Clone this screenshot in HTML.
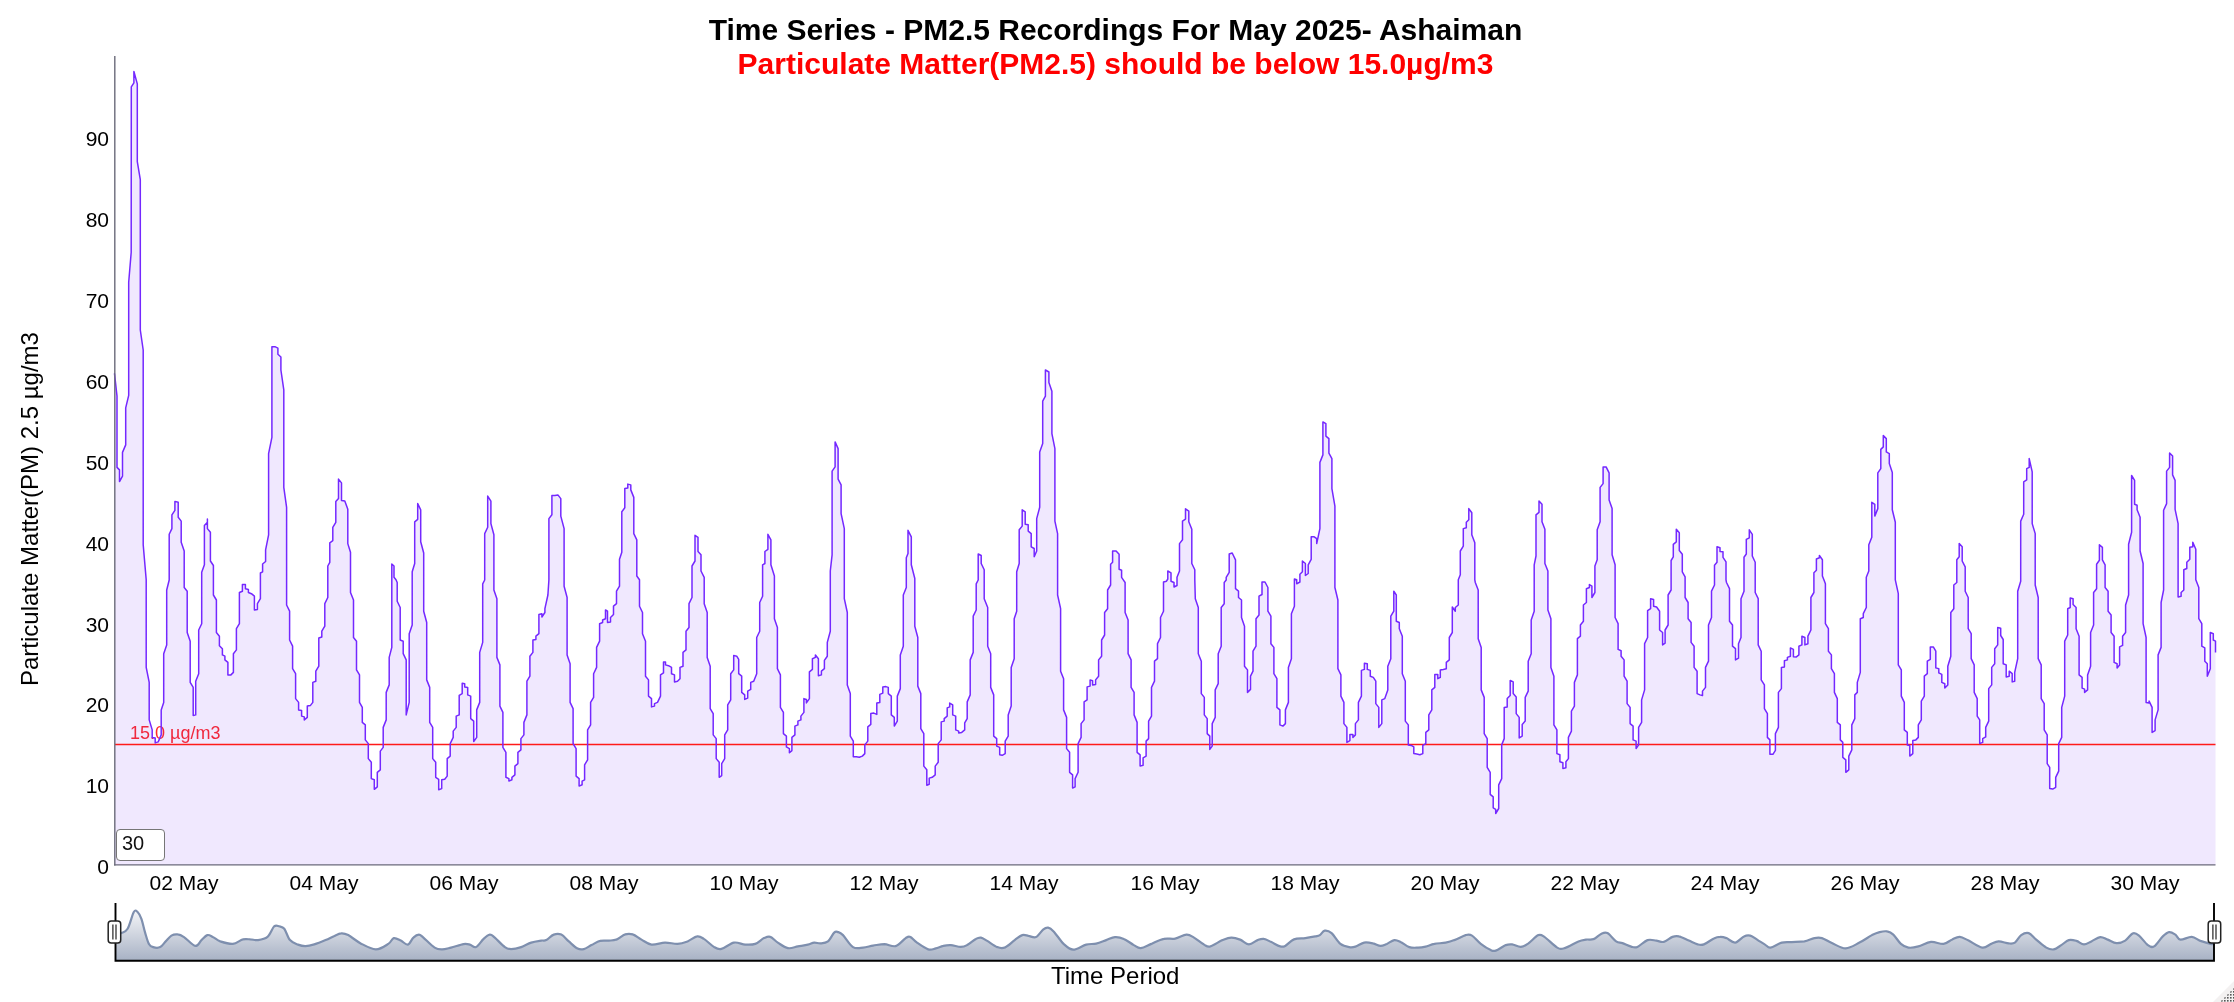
<!DOCTYPE html>
<html><head><meta charset="utf-8"><title>Time Series - PM2.5</title>
<style>
html,body{margin:0;padding:0;background:#fff;}
.t,.yl,.xl,#ylab,#xlab,#roll,#thr{will-change:transform;}
body{width:2234px;height:1002px;position:relative;overflow:hidden;font-family:"Liberation Sans",Arial,sans-serif;color:#000;}
.t{position:absolute;left:0;width:2231px;text-align:center;font-weight:bold;font-size:30px;line-height:34px;white-space:nowrap;}
.yl{position:absolute;left:30px;width:79px;text-align:right;font-size:21px;line-height:24px;height:24px;}
.xl{position:absolute;top:870.6px;width:100px;text-align:center;font-size:21px;line-height:24px;white-space:nowrap;}
#ylab{position:absolute;left:-170px;top:497px;width:400px;height:24px;line-height:24px;text-align:center;font-size:24px;transform:rotate(-90deg);white-space:nowrap;}
#xlab{position:absolute;left:0;width:2230.4px;top:962px;text-align:center;font-size:24px;line-height:28px;}
#roll{position:absolute;left:116px;top:829px;width:47px;height:30px;border:1px solid #767676;border-radius:4px;background:#fff;font-size:20px;line-height:27px;text-indent:5px;color:#111;}
#thr{position:absolute;left:130px;top:722px;font-size:18px;line-height:22px;color:#ff2a2a;white-space:nowrap;}
svg{position:absolute;left:0;top:0;}
</style></head><body>
<div class="t" style="top:13px">Time Series - PM2.5 Recordings For May 2025- Ashaiman</div>
<div class="t" style="top:47px;color:#f00">Particulate Matter(PM2.5) should be below 15.0µg/m3</div>
<div id="ylab">Particulate Matter(PM) 2.5 µg/m3</div>
<div class="yl" style="top:855.0px">0</div><div class="yl" style="top:774.0px">10</div><div class="yl" style="top:693.0px">20</div><div class="yl" style="top:613.0px">30</div><div class="yl" style="top:532.0px">40</div><div class="yl" style="top:451.0px">50</div><div class="yl" style="top:370.0px">60</div><div class="yl" style="top:289.0px">70</div><div class="yl" style="top:208.0px">80</div><div class="yl" style="top:127.0px">90</div><div class="xl" style="left:133.9px">02 May</div><div class="xl" style="left:274.0px">04 May</div><div class="xl" style="left:414.1px">06 May</div><div class="xl" style="left:554.1px">08 May</div><div class="xl" style="left:694.2px">10 May</div><div class="xl" style="left:834.3px">12 May</div><div class="xl" style="left:974.4px">14 May</div><div class="xl" style="left:1114.5px">16 May</div><div class="xl" style="left:1254.5px">18 May</div><div class="xl" style="left:1394.6px">20 May</div><div class="xl" style="left:1534.7px">22 May</div><div class="xl" style="left:1674.8px">24 May</div><div class="xl" style="left:1814.9px">26 May</div><div class="xl" style="left:1954.9px">28 May</div><div class="xl" style="left:2095.0px">30 May</div>
<div id="thr">15.0 µg/m3</div>
<svg width="2234" height="1002" viewBox="0 0 2234 1002">
<defs>
<linearGradient id="mg" gradientUnits="userSpaceOnUse" x1="0" y1="903" x2="0" y2="961"><stop offset="0" stop-color="#ffffff"/><stop offset="1" stop-color="#a7b1c4"/></linearGradient>
<pattern id="dots" width="3" height="3" patternUnits="userSpaceOnUse"><rect x="1" y="1" width="1.6" height="1.6" fill="#555"/></pattern>
</defs>
<path d="M115,373.7 L114.5,373.7 117,396.2 117,467.4 119.5,469.9 119.5,481.6 122.5,476.1 122.5,452.4 125.7,444.9 125.7,407.9 128.7,395.4 128.7,330 128.7,282.3 131.2,252.3 131.3,86.9 133.9,82.9 133.9,71.5 137.3,83.9 137.3,161.7 140.3,179.7 140.3,249.9 140.3,330 143.2,350 143.2,544.8 146.2,579.8 146.2,667.4 149.2,682.4 149.2,719.9 152.2,729.9 152.2,737.4 155.2,738.1 155.2,742.9 158.2,741.9 161.2,734.9 161.2,709.9 163.7,702.4 163.7,653.7 166.7,644.9 166.7,590 169.2,580 169.2,534.3 171.9,528.6 171.9,514.8 174.9,510.3 174.9,501.4 178.2,502.3 178.2,517.3 181.2,521.1 181.2,542.3 184.2,551 184.2,579.8 184.2,587.5 187.2,591.2 187.2,632.5 190.2,641.2 190.2,682.4 193.2,687.4 193.2,715.6 195.7,714.9 195.7,681.2 198.7,673.7 198.7,630 201.7,623.7 201.7,580 201.7,572.3 204.4,564.8 204.4,525.6 207.4,522.3 207.4,519.1 207.4,528.6 210.4,532.3 210.4,561 213.4,565.5 213.4,579.8 213.4,595 216.4,600 216.4,632.5 219.4,636.2 219.4,645.7 222.4,648.7 222.4,654.9 224.9,656.2 224.9,659.9 227.9,662.4 227.9,674.9 230.9,674.9 233.4,672.4 233.4,653.7 236.4,649.9 236.4,628.7 239.4,623.7 239.4,592.5 242.4,591.2 242.4,584.5 245.4,584.5 245.4,588.7 248.4,589.5 248.4,592.5 251.4,593.7 254.4,596.2 254.4,610 257.4,609.5 257.4,603.7 260.4,598.7 260.4,580 260.4,573 262.6,571.8 262.6,564 265.6,561.5 265.6,549.8 268.6,534.8 268.6,453.6 271.9,437.4 271.9,346.7 274.9,346.7 277.9,348.2 277.9,354.2 280.9,357 280.9,370 283.8,389.9 283.8,487.4 286.6,507.3 286.6,579.8 286.6,605 289.6,611.2 289.6,640 292.6,646.2 292.6,668.7 295.6,673.7 295.6,698.6 298.6,702.4 298.6,709.9 301.6,710.4 301.6,716.1 304.3,716.9 304.3,719.9 307.3,717.4 307.3,706.1 310.3,705.6 312.8,702.4 312.8,682.4 315.8,681.2 315.8,671.2 318.8,666.2 318.8,638 321.8,637 321.8,631.2 324.8,626.2 324.8,603.7 327.8,597.5 327.8,580 327.8,566 329.8,562.3 329.8,542.8 332.8,540.6 332.8,527.3 335.8,522.3 335.8,501.6 338.5,498.6 338.5,479.1 341.5,482.9 341.5,500.4 344.8,500.9 347.8,509.3 347.8,543.6 350.5,552.3 350.5,579.8 350.5,592.5 353.5,600 353.5,637.5 356.5,641.2 356.5,669.9 359.5,674.9 359.5,702.4 362.3,707.4 362.3,722.4 365.3,724.9 365.3,739.9 368.3,743.6 368.3,758.6 371.3,762.3 371.3,778.6 374.3,779.8 374.3,789.3 377.3,786.8 377.3,772.3 380.3,769.8 380.3,751.1 383.2,747.4 383.2,727.4 386.2,719.9 386.2,692.4 389.2,684.9 389.2,657.4 391.8,647.4 391.8,580 391.8,564 394,566 394,577.3 396,579.8 397.2,582.5 397.2,601.2 400.2,607.5 400.2,640 403.2,641.2 403.2,653.7 406.2,659.9 406.2,714.9 409.2,702.4 409.2,633.7 412.2,625 412.2,580 412.2,571.8 414.7,563.5 414.7,521.8 417.7,519.3 417.7,503.6 420.7,509.8 420.7,541.8 423.7,553 423.7,579.8 423.7,611.2 426.7,622.5 426.7,679.9 429.7,687.4 429.7,722.4 432.7,727.4 432.7,758.6 435.7,762.3 435.7,777.3 438.7,779.3 438.7,789.8 441.7,788.6 441.7,779.8 444.7,779.3 447.2,776.1 447.2,758.6 450.2,756.1 450.2,743.6 453.2,737.4 453.2,731.1 456.2,727.4 456.2,716.1 459.2,714.9 459.2,695.4 462.2,693.6 462.2,683.2 464.7,683.7 464.7,686.9 467.7,687.4 467.7,694.9 470.7,696.1 470.7,718.6 473.7,721.1 473.7,741.6 476.7,737.4 476.7,709.9 479.7,702.4 479.7,652.4 482.7,642.4 482.7,583.8 484.7,580 484.7,573.5 484.7,533.6 487.7,527.3 487.7,496.1 490.9,501.1 490.9,523.6 493.9,534.8 493.9,579.8 493.9,590 496.9,598.7 496.9,657.4 499.9,664.9 499.9,706.1 502.9,712.4 502.9,747.4 505.9,752.3 505.9,777.3 508.9,778.6 508.9,781.1 511.9,779.8 511.9,777.3 514.9,774.8 514.9,766.1 517.9,763.6 517.9,752.3 520.9,749.9 520.9,738.6 523.9,734.9 523.9,722.4 526.9,714.9 526.9,681.2 529.9,676.2 529.9,656.2 532.9,652.4 532.9,640 535.9,639.5 535.9,636.2 538.9,633.7 538.9,614.5 541.9,613.7 541.9,617 544.9,612.5 544.9,608.7 547.9,595 548.9,580 548.9,518.6 551.9,514.8 551.9,495.4 554.9,495.4 557.9,494.9 560.8,498.6 560.8,516.1 564.1,528.6 564.1,579.8 564.1,586.2 567.1,597.5 567.1,654.9 570.1,663.7 570.1,702.4 573.1,708.6 573.1,743.6 576.1,748.6 576.1,776.1 579.1,778.6 579.1,786.1 582.1,784.8 582.1,781.1 584.6,779.8 584.6,764.8 587.6,759.8 587.6,729.9 590.6,724.9 590.6,702.4 593.6,697.4 593.6,673.7 596.6,667.4 596.6,647.4 599.6,641.2 599.6,623.7 602.6,622.5 602.6,620 605.5,618.7 605.5,610 607.5,611.2 607.5,622.5 610.5,622 610.5,617.5 613.5,614.5 613.5,606.2 616.5,603.7 616.5,591.2 619.5,586.2 619.5,580 619.5,559.3 621.8,552.3 621.8,511.8 624.8,507.8 624.8,488.6 627.8,488.1 627.8,484.1 630.8,484.9 630.8,489.9 633.8,497.4 633.8,533.6 636.8,539.8 636.8,576 639.5,579.8 639.5,606.2 642.5,612.5 642.5,633.7 645.5,641.2 645.5,676.2 648.5,679.9 648.5,696.1 651.5,698.6 651.5,706.9 654.5,706.1 654.5,703.6 657.5,702.4 660.5,696.1 660.5,674.9 663.5,672.9 663.5,661.9 665.5,661.9 665.5,664.9 668.5,665.7 671.5,667.4 671.5,673.7 674.5,674.9 674.5,681.9 677.5,681.2 680,678.7 680,667.4 683,666.2 683,652.4 686,649.9 686,631.2 689,627.5 689,603.7 692,597.5 692,580 692,566 695,561 695,535.3 698,537.3 698,551.5 701,554.8 701,571 704.2,577.3 704.2,579.8 704.2,603.7 707.2,612.5 707.2,657.4 710.2,666.2 710.2,708.6 713.2,713.6 713.2,734.9 716.2,738.6 716.2,758.6 719.2,762.3 719.2,777.3 721.7,775.6 721.7,763.6 724.7,758.6 724.7,734.9 727.7,729.9 727.7,704.9 730.7,699.9 730.7,673.7 733.7,669.9 733.7,655.4 736.7,656.2 738.7,659.4 738.7,673.7 741.7,676.2 741.7,692.4 744.7,694.9 744.7,699.4 747.7,698.1 747.7,691.1 750.7,689.4 750.7,682.4 753.7,681.2 756.7,673.7 756.7,637.5 759.7,631.2 759.7,602.5 762.6,596.2 762.6,580 762.6,564.8 764.9,563.5 764.9,551.5 767.9,549.3 767.9,534.3 770.9,539.8 770.9,564.8 774.4,576 774.4,579.8 774.4,618.7 777.4,627.5 777.4,668.7 780.4,674.9 780.4,707.4 783.4,712.4 783.4,733.6 786.4,736.1 786.4,746.9 789.4,748.6 789.4,752.8 791.9,750.6 791.9,737.4 794.9,734.9 794.9,726.1 797.9,724.9 797.9,721.1 800.9,719.9 800.9,716.1 803.9,712.4 803.9,698.6 806.4,699.4 806.4,702.9 809.4,698.6 809.4,671.9 812.4,669.4 812.4,658.7 815.4,657.4 815.4,654.9 818.4,658.7 818.4,675.7 821.4,674.9 821.4,671.2 824.4,668.7 824.4,660.4 827.3,656.2 827.3,642.4 830.3,631.2 830.3,580 830.3,571 832.1,554.8 832.1,471.1 835.1,466.9 835.1,441.9 838.1,448.6 838.1,479.1 841.1,484.9 841.1,513.6 844.3,528.6 844.3,579.8 844.3,598.7 847.3,612.5 847.3,684.9 850.3,693.6 850.3,736.1 853.3,741.1 853.3,756.8 856.3,756.8 859.3,757.3 862.3,756.1 864.8,753.6 864.8,744.9 867.8,741.1 867.8,726.9 870.8,724.4 870.8,713.6 873.8,713.1 876.8,714.4 876.8,702.9 879.8,702.4 879.8,694.4 882.8,693.1 882.8,686.9 885.8,686.6 888.3,687.4 888.3,693.6 891.3,696.1 891.3,714.9 894.3,717.4 894.3,726.1 897.3,721.1 897.3,696.1 900.3,688.6 900.3,654.9 903.3,646.2 903.3,595 906.3,587.5 906.3,580 906.3,557.8 908,553.5 908,530.3 911.3,536.8 911.3,564.8 914.8,578.5 914.8,579.8 914.8,626.2 917.8,637.5 917.8,686.1 920.8,693.6 920.8,728.6 923.8,733.6 923.8,766.1 926.8,769.8 926.8,785.3 929.2,784.3 929.2,778.1 932.2,777.3 935.2,774.8 935.2,766.1 938.2,762.3 938.2,743.6 941.2,739.9 941.2,721.9 944.2,721.1 944.2,718.6 947.2,716.1 947.2,707.9 949.7,706.9 949.7,703.1 952.7,704.9 952.7,714.9 955.7,716.1 955.7,729.9 958.7,731.1 958.7,732.9 961.7,732.4 964.7,729.9 964.7,722.9 967.2,718.6 967.2,701.9 970.2,694.9 970.2,659.9 973.2,652.4 973.2,616.2 976.2,610 976.2,583.8 978.2,580 978.2,554 981.2,555.5 981.2,563.5 984.2,569.8 984.2,579.8 984.2,598.7 987.7,607.5 987.7,646.2 990.7,653.7 990.7,687.4 993.7,694.9 993.7,736.1 996.7,738.6 996.7,746.1 999.7,747.4 999.7,754.8 1002.2,755.3 1005.2,753.6 1005.2,741.1 1008.2,736.1 1008.2,714.9 1011.2,706.1 1011.2,667.4 1014.2,658.7 1014.2,618.7 1016.7,611.2 1016.7,580 1016.7,571.8 1019.2,563.5 1019.2,529.8 1022.2,526.1 1022.2,509.8 1025.2,511.8 1025.2,524.3 1028.2,524.8 1028.2,531.1 1031.2,533.6 1031.2,546.8 1034.2,548.5 1034.2,556.8 1036.7,551 1036.7,518.6 1039.7,507.3 1039.7,451.9 1042.7,443.6 1042.7,401.2 1045.4,396.2 1045.4,370 1048.9,372 1048.9,382.4 1051.9,391.2 1051.9,433.7 1054.9,448.6 1054.9,521.1 1057.6,533.6 1057.6,579.8 1057.6,595 1060.6,608.7 1060.6,671.2 1063.6,678.7 1063.6,709.9 1066.6,717.4 1066.6,748.6 1069.6,752.3 1069.6,772.3 1072.6,774.8 1072.6,788.1 1075.1,786.8 1075.1,778.6 1078.1,772.3 1078.1,743.6 1081.1,737.4 1081.1,723.6 1084.1,719.9 1084.1,701.9 1087.1,699.9 1087.1,686.9 1090.1,686.1 1090.1,679.9 1092.6,680.7 1092.6,684.9 1095.6,684.4 1095.6,679.9 1098.6,676.2 1098.6,659.9 1101.6,656.2 1101.6,640 1104.6,635 1104.6,612.5 1107.6,608.7 1107.6,590 1110.6,585 1110.6,580 1110.6,564.3 1112.6,562.3 1112.6,551 1116.1,551 1119.1,554.3 1119.1,569.3 1121.6,570.3 1121.6,577.3 1123.3,579.8 1125.1,582.5 1125.1,612.5 1128.1,620 1128.1,653.7 1131.1,659.9 1131.1,687.4 1134.1,692.4 1134.1,714.9 1137.1,722.4 1137.1,752.3 1140.1,754.8 1140.1,766.1 1143.1,765.3 1143.1,757.8 1146.1,756.1 1146.1,741.1 1148.6,738.6 1148.6,721.1 1151.5,716.1 1151.5,687.4 1154.5,681.2 1154.5,661.2 1157.5,658.7 1157.5,643.7 1160.5,637.5 1160.5,617.5 1163.5,611.2 1163.5,582 1166.5,581.2 1167.8,579 1167.8,571 1171,572.8 1171,579.8 1171,581.2 1174,582.5 1174,587 1177,585.5 1177,580 1177,577.3 1179.5,571 1179.5,543.6 1182.5,539.8 1182.5,521.1 1185.5,519.1 1185.5,508.8 1188.8,511.1 1188.8,521.8 1191.8,529.3 1191.8,563.5 1194.8,569.8 1194.8,579.8 1195.3,598.7 1198.3,607.5 1198.3,653.7 1201.3,661.2 1201.3,693.6 1204.3,697.4 1204.3,714.9 1207.2,718.6 1207.2,733.6 1209.8,736.1 1209.8,749.4 1212.2,746.1 1212.2,743.6 1212.2,723.6 1215.2,717.4 1215.2,689.9 1218.2,683.7 1218.2,653.7 1221.2,646.2 1221.2,607.5 1224.2,603.7 1224.2,582.5 1226.2,580 1226.2,577.3 1229.2,572.3 1229.2,554 1232.2,553 1235.5,559.8 1235.5,579.8 1235.5,588.7 1238.5,591.2 1238.5,597.5 1241.5,600 1241.5,617.5 1244.5,626.2 1244.5,666.2 1247.5,669.9 1247.5,692.4 1250.5,689.4 1250.5,676.2 1253,671.2 1253,651.2 1256,646.2 1256,618.7 1259,615 1259,596.2 1262,594.5 1262,582 1265,582 1267.9,587.5 1267.9,611.2 1270.9,616.2 1270.9,643.7 1273.9,647.4 1273.9,673.7 1276.9,678.7 1276.9,707.4 1279.9,709.9 1279.9,724.9 1282.9,726.1 1285.4,723.6 1285.4,709.9 1288.4,702.4 1288.4,667.4 1291.4,658.7 1291.4,613.7 1294.4,606.2 1294.4,580 1294.4,579 1296.7,579.8 1296.7,583.8 1299.9,582 1299.9,580 1299.9,574.3 1302.4,571.8 1302.4,561 1305.4,563.5 1305.4,575.5 1308.2,573.5 1308.2,564.8 1311.2,559.3 1311.2,536.8 1314.2,536.8 1316.7,538.6 1316.7,543.6 1319.9,528.6 1319.9,462.4 1322.9,454.9 1322.9,421.9 1325.9,423.7 1325.9,436.1 1328.9,438.6 1328.9,453.1 1331.9,458.6 1331.9,488.6 1334.9,506.1 1334.9,579.8 1334.9,587.5 1337.9,600 1337.9,668.7 1340.9,674.9 1340.9,696.1 1343.9,702.4 1343.9,723.6 1346.9,727.4 1346.9,742.4 1349.9,740.6 1349.9,734.4 1352.9,734.4 1352.9,737.4 1355.4,734.9 1355.4,723.6 1358.4,719.9 1358.4,702.4 1361.4,696.1 1361.4,670.4 1364.4,669.4 1364.4,663.2 1367.3,663.7 1367.3,669.4 1370.3,670.4 1370.3,676.2 1373.3,677.4 1375.8,681.2 1375.8,703.6 1378.8,707.4 1378.8,727.4 1381.8,723.6 1381.8,699.9 1384.8,698.6 1387.8,689.9 1387.8,666.2 1390.8,658.7 1390.8,616.2 1393.8,611.2 1393.8,591.2 1396.3,595 1396.3,621.2 1399.3,622.5 1399.3,628.7 1402.3,636.2 1402.3,673.7 1405.3,681.2 1405.3,721.1 1408.3,724.9 1408.3,744.9 1411.3,745.4 1413.8,746.9 1413.8,753.6 1416.8,754.1 1419.8,754.8 1422.8,753.6 1422.8,745.4 1425.8,743.6 1425.8,732.4 1428.8,729.9 1428.8,714.9 1431.8,709.9 1431.8,689.9 1434.8,687.4 1434.8,674.4 1437.8,674.4 1437.8,678.7 1440.3,677.4 1440.3,669.9 1443.3,669.4 1446.3,668.7 1446.3,662.4 1449.3,659.9 1449.3,637.5 1452.3,632.5 1452.3,607 1455.3,611.2 1455.3,607.5 1458.3,605 1458.3,580 1458.3,579.8 1460.3,574.8 1460.3,551 1463.3,546.1 1463.3,528.6 1466.3,527.8 1466.3,522.3 1468.8,519.8 1468.8,508.6 1471.8,512.8 1471.8,534.8 1474.8,542.8 1474.8,579.8 1475.3,582.5 1478.2,590 1478.2,638.7 1481.2,647.4 1481.2,689.9 1484.2,697.4 1484.2,733.6 1487.2,738.6 1487.2,767.3 1490.2,772.3 1490.2,794.3 1493.2,796.8 1493.2,807.8 1495.7,809.3 1495.7,813.5 1498.7,808.5 1498.7,784.8 1501.7,778.6 1501.7,744.9 1504.2,738.6 1504.2,707.4 1507.2,706.9 1507.2,698.6 1510.2,695.4 1510.2,680.4 1513.2,681.9 1513.2,693.6 1516.2,696.9 1516.2,713.6 1519.2,717.4 1519.2,737.9 1522.2,736.1 1522.2,724.4 1525.2,721.1 1525.2,697.4 1528.2,691.1 1528.2,661.2 1531.2,653.7 1531.2,620 1534.2,611.2 1534.2,580 1534.2,564.8 1536,556 1536,514.8 1539,512.3 1539,501.1 1542,504.3 1542,521.8 1544.9,529.3 1544.9,563.5 1547.9,571 1547.9,579.8 1547.9,610 1550.9,618.7 1550.9,667.4 1553.9,676.2 1553.9,724.9 1556.9,729.9 1556.9,753.6 1559.9,754.8 1559.9,761.8 1562.9,762.8 1562.9,768.6 1565.9,767.8 1565.9,761.8 1568.4,758.6 1568.4,737.4 1571.4,731.1 1571.4,711.1 1574.4,706.1 1574.4,682.4 1577.4,674.9 1577.4,638.7 1580.4,636.2 1580.4,625 1583.4,621.2 1583.4,605 1586.4,602.5 1586.4,588.7 1589.4,587.5 1589.4,584.5 1591.9,586.2 1591.9,597.5 1594.9,592.5 1594.9,580 1594.9,566 1597.2,559.8 1597.2,529.8 1600.1,521.8 1600.1,487.4 1603.1,483.6 1603.1,466.9 1606.1,466.9 1609.1,472.9 1609.1,499.9 1612.1,508.6 1612.1,554.8 1615.1,564.8 1615.1,579.8 1615.1,617.5 1618.1,623.7 1618.1,649.4 1621.1,650.7 1621.1,656.2 1624.1,659.9 1624.1,676.2 1627.1,681.2 1627.1,703.6 1630.1,707.4 1630.1,723.6 1633.1,726.1 1633.1,739.9 1636.1,741.1 1636.1,748.6 1638.6,744.9 1638.6,727.4 1641.6,722.4 1641.6,699.9 1644.6,689.9 1644.6,643.7 1647.6,637.5 1647.6,610.7 1650.6,608.7 1650.6,598.7 1653.6,599.5 1653.6,606.2 1656.6,607 1659.6,611.2 1659.6,630 1662.6,632.5 1662.6,644.9 1665.1,643.2 1665.1,630 1668.1,625 1668.1,595 1671.1,590 1671.1,580 1671.1,560.5 1673.3,556.8 1673.3,544.3 1676.3,541.8 1676.3,529.3 1679.3,532.8 1679.3,550.5 1682.3,554.3 1682.3,571.8 1685.1,576.8 1685.1,579.8 1685.1,597.5 1688.1,602.5 1688.1,618.7 1691.1,622.5 1691.1,642.4 1694.1,646.2 1694.1,667.4 1697.1,671.2 1697.1,693.6 1700,694.9 1702.5,695.6 1702.5,691.1 1705.5,687.4 1705.5,667.4 1708.5,661.2 1708.5,625 1711.5,617.5 1711.5,591.2 1714.5,585 1714.5,580 1714.5,565.3 1717,562.3 1717,546.8 1720,547.8 1720,551.5 1723,551.8 1723,557.3 1726,561.8 1726,579.8 1726.5,582.5 1729.5,588.7 1729.5,621.2 1732.5,625 1732.5,646.2 1735.5,648.7 1735.5,659.9 1738.5,658.2 1738.5,643.7 1741,637.5 1741,598.7 1744,591.2 1744,580 1744,557.3 1746.3,554 1746.3,539.3 1749.3,537.8 1749.3,529.8 1752.3,534.3 1752.3,556 1755.2,562.3 1755.2,579.8 1755.2,592.5 1758.2,598.7 1758.2,644.9 1761.2,651.2 1761.2,679.9 1764.4,684.9 1764.4,708.6 1767.4,713.6 1767.4,737.4 1769.9,739.9 1769.9,754.3 1772.9,754.3 1775.4,750.4 1775.4,733.6 1778.4,727.4 1778.4,692.4 1781.4,688.6 1781.4,667.4 1784.4,666.9 1784.4,660.7 1787.4,659.9 1787.4,657.4 1790.4,656.2 1790.4,647.9 1793.4,649.4 1793.4,656.7 1796.4,656.9 1798.9,654.9 1798.9,646.2 1801.9,644.9 1801.9,636.2 1804.9,637.5 1804.9,644.9 1807.9,643.7 1807.9,636.2 1810.9,630 1810.9,597.5 1813.9,592.5 1813.9,580 1813.9,572.8 1816.4,570.3 1816.4,559 1819.4,557.8 1819.4,555.5 1822.4,559.8 1822.4,576 1823.9,579.8 1825.4,583.8 1825.4,623.7 1828.4,628.7 1828.4,651.2 1831.4,654.9 1831.4,668.7 1834.4,673.7 1834.4,692.4 1837.3,698.6 1837.3,722.4 1840.3,724.9 1840.3,739.9 1842.8,742.4 1842.8,757.3 1845.8,759.8 1845.8,772.3 1848.8,769.8 1848.8,756.1 1851.8,749.9 1851.8,724.9 1854.8,718.6 1854.8,694.9 1857.3,692.4 1857.3,682.4 1860.3,672.4 1860.3,618.7 1863.3,617.5 1863.3,613.7 1866.3,607.5 1866.3,580 1866.3,577.3 1868.8,571 1868.8,544.8 1871.8,537.3 1871.8,502.3 1874.8,504.3 1874.8,516.1 1877.8,508.6 1877.8,472.9 1880.8,468.6 1880.8,449.4 1883.3,446.9 1883.3,435.6 1886.3,438.6 1886.3,451.9 1889.3,453.6 1889.3,463.6 1892.3,472.4 1892.3,509.8 1895.3,522.3 1895.3,579.8 1898.3,593.7 1898.3,664.9 1901.3,669.9 1901.3,696.1 1904.3,702.4 1904.3,729.9 1907.3,732.4 1907.3,744.9 1909.8,745.4 1909.8,756.1 1912.8,753.6 1912.8,740.4 1915.8,739.9 1918.3,737.4 1918.3,724.9 1921.3,719.9 1921.3,701.1 1924.3,696.1 1924.3,676.2 1927.3,673.7 1927.3,661.2 1930.3,659.4 1930.3,646.9 1933.3,646.9 1935.8,651.2 1935.8,667.9 1938.8,668.7 1938.8,672.9 1941.8,674.4 1941.8,682.4 1944.8,683.7 1944.8,688.1 1947.8,684.9 1947.8,666.2 1950.8,656.2 1950.8,612.5 1953.8,608.7 1953.8,585 1956.8,582.5 1956.8,580 1956.8,559.8 1959.2,556.8 1959.2,543.6 1962.2,546.8 1962.2,561 1965.2,566.8 1965.2,579.8 1965.2,591.2 1968.2,597.5 1968.2,628.7 1971.2,633.7 1971.2,658.7 1974.2,664.9 1974.2,692.4 1977.2,698.6 1977.2,716.1 1979.7,719.9 1979.7,743.6 1982.7,742.4 1982.7,738.6 1985.7,736.9 1985.7,727.4 1988.7,721.1 1988.7,688.6 1991.7,684.9 1991.7,667.4 1994.7,663.7 1994.7,648.7 1997.7,644.9 1997.7,627.5 2000.7,628.2 2000.7,635.5 2003.2,639.5 2003.2,663.7 2006.2,664.9 2006.2,676.9 2009.2,676.2 2009.2,671.2 2012.2,673.7 2012.2,681.9 2014.7,681.2 2014.7,672.4 2017.7,658.7 2017.7,591.2 2020.7,581.2 2020.7,580 2020.7,521.1 2023.7,514.3 2023.7,481.9 2026.7,479.9 2026.7,468.6 2029.2,467.4 2029.2,458.6 2032.2,471.9 2032.2,523.6 2035.2,533.6 2035.2,579.8 2035.2,585 2038.2,597.5 2038.2,658.7 2041.2,664.9 2041.2,698.6 2044.2,703.6 2044.2,729.9 2047.2,734.9 2047.2,763.6 2049.7,767.3 2049.7,788.6 2052.7,789.1 2055.7,787.3 2055.7,777.3 2058.7,771.1 2058.7,743.6 2061.7,737.4 2061.7,707.4 2064.7,696.1 2064.7,641.2 2067.7,635 2067.7,608.7 2070.2,607.5 2070.2,598 2073.1,598.7 2073.1,604.5 2076.1,607.5 2076.1,628.7 2079.1,636.2 2079.1,674.9 2082.1,677.4 2082.1,688.1 2084.6,689.1 2084.6,692.4 2087.6,689.9 2087.6,674.9 2090.6,666.2 2090.6,632.5 2093.6,625 2093.6,592.5 2096.6,588.7 2096.6,580 2096.6,564.3 2099.4,560.3 2099.4,544.8 2102.4,547.3 2102.4,559.8 2105.1,564.8 2105.1,579.8 2105.1,587.5 2108.1,591.2 2108.1,611.2 2111.1,615 2111.1,632.5 2114.1,636.2 2114.1,662.4 2117.1,663.7 2117.1,667.9 2119.6,664.9 2119.6,646.9 2122.6,645.4 2122.6,636.2 2125.6,632.5 2125.6,605 2128.6,595 2128.6,580 2128.6,544.3 2131.6,532.3 2131.6,475.4 2134.6,480.4 2134.6,504.3 2137.1,505.3 2137.1,509.8 2140.1,517.3 2140.1,551 2143.1,563.5 2143.1,579.8 2143.1,623.7 2146.1,637.5 2146.1,702.4 2149.1,702.9 2149.1,701.1 2152.1,707.4 2152.1,732.4 2155.1,730.6 2155.1,719.9 2158.1,709.9 2158.1,654.9 2161.1,647.4 2161.1,602.5 2163.6,590 2163.6,580 2163.6,510.3 2166.6,503.6 2166.6,471.1 2169.6,467.4 2169.6,452.9 2172.6,456.1 2172.6,474.9 2175.1,480.4 2175.1,509.3 2178.1,523.6 2178.1,579.8 2178.1,597 2181.1,596.2 2181.1,592.5 2183.8,590 2183.8,580 2183.8,569.8 2186.8,568.5 2186.8,562.3 2189.8,559.3 2189.8,547.3 2192.8,546.8 2192.8,542.3 2195.8,549.3 2195.8,579.8 2198.8,587.5 2198.8,618.7 2201.8,623.7 2201.8,646.2 2204.8,647.9 2204.8,661.2 2207.3,663.7 2207.3,676.2 2210.3,668.7 2210.3,632.5 2213.3,633.7 2213.3,640 2215.5,641.2 2215.5,652.4 L2215.5,652.4 L2215.5,864.9 L115,864.9 Z" fill="#6919f5" fill-opacity="0.1" stroke="none"/>
<line x1="115" y1="744.6" x2="2215.5" y2="744.6" stroke="#ff1a1a" stroke-width="1.5"/>
<path d="M115,373.7 L114.5,373.7 117,396.2 117,467.4 119.5,469.9 119.5,481.6 122.5,476.1 122.5,452.4 125.7,444.9 125.7,407.9 128.7,395.4 128.7,330 128.7,282.3 131.2,252.3 131.3,86.9 133.9,82.9 133.9,71.5 137.3,83.9 137.3,161.7 140.3,179.7 140.3,249.9 140.3,330 143.2,350 143.2,544.8 146.2,579.8 146.2,667.4 149.2,682.4 149.2,719.9 152.2,729.9 152.2,737.4 155.2,738.1 155.2,742.9 158.2,741.9 161.2,734.9 161.2,709.9 163.7,702.4 163.7,653.7 166.7,644.9 166.7,590 169.2,580 169.2,534.3 171.9,528.6 171.9,514.8 174.9,510.3 174.9,501.4 178.2,502.3 178.2,517.3 181.2,521.1 181.2,542.3 184.2,551 184.2,579.8 184.2,587.5 187.2,591.2 187.2,632.5 190.2,641.2 190.2,682.4 193.2,687.4 193.2,715.6 195.7,714.9 195.7,681.2 198.7,673.7 198.7,630 201.7,623.7 201.7,580 201.7,572.3 204.4,564.8 204.4,525.6 207.4,522.3 207.4,519.1 207.4,528.6 210.4,532.3 210.4,561 213.4,565.5 213.4,579.8 213.4,595 216.4,600 216.4,632.5 219.4,636.2 219.4,645.7 222.4,648.7 222.4,654.9 224.9,656.2 224.9,659.9 227.9,662.4 227.9,674.9 230.9,674.9 233.4,672.4 233.4,653.7 236.4,649.9 236.4,628.7 239.4,623.7 239.4,592.5 242.4,591.2 242.4,584.5 245.4,584.5 245.4,588.7 248.4,589.5 248.4,592.5 251.4,593.7 254.4,596.2 254.4,610 257.4,609.5 257.4,603.7 260.4,598.7 260.4,580 260.4,573 262.6,571.8 262.6,564 265.6,561.5 265.6,549.8 268.6,534.8 268.6,453.6 271.9,437.4 271.9,346.7 274.9,346.7 277.9,348.2 277.9,354.2 280.9,357 280.9,370 283.8,389.9 283.8,487.4 286.6,507.3 286.6,579.8 286.6,605 289.6,611.2 289.6,640 292.6,646.2 292.6,668.7 295.6,673.7 295.6,698.6 298.6,702.4 298.6,709.9 301.6,710.4 301.6,716.1 304.3,716.9 304.3,719.9 307.3,717.4 307.3,706.1 310.3,705.6 312.8,702.4 312.8,682.4 315.8,681.2 315.8,671.2 318.8,666.2 318.8,638 321.8,637 321.8,631.2 324.8,626.2 324.8,603.7 327.8,597.5 327.8,580 327.8,566 329.8,562.3 329.8,542.8 332.8,540.6 332.8,527.3 335.8,522.3 335.8,501.6 338.5,498.6 338.5,479.1 341.5,482.9 341.5,500.4 344.8,500.9 347.8,509.3 347.8,543.6 350.5,552.3 350.5,579.8 350.5,592.5 353.5,600 353.5,637.5 356.5,641.2 356.5,669.9 359.5,674.9 359.5,702.4 362.3,707.4 362.3,722.4 365.3,724.9 365.3,739.9 368.3,743.6 368.3,758.6 371.3,762.3 371.3,778.6 374.3,779.8 374.3,789.3 377.3,786.8 377.3,772.3 380.3,769.8 380.3,751.1 383.2,747.4 383.2,727.4 386.2,719.9 386.2,692.4 389.2,684.9 389.2,657.4 391.8,647.4 391.8,580 391.8,564 394,566 394,577.3 396,579.8 397.2,582.5 397.2,601.2 400.2,607.5 400.2,640 403.2,641.2 403.2,653.7 406.2,659.9 406.2,714.9 409.2,702.4 409.2,633.7 412.2,625 412.2,580 412.2,571.8 414.7,563.5 414.7,521.8 417.7,519.3 417.7,503.6 420.7,509.8 420.7,541.8 423.7,553 423.7,579.8 423.7,611.2 426.7,622.5 426.7,679.9 429.7,687.4 429.7,722.4 432.7,727.4 432.7,758.6 435.7,762.3 435.7,777.3 438.7,779.3 438.7,789.8 441.7,788.6 441.7,779.8 444.7,779.3 447.2,776.1 447.2,758.6 450.2,756.1 450.2,743.6 453.2,737.4 453.2,731.1 456.2,727.4 456.2,716.1 459.2,714.9 459.2,695.4 462.2,693.6 462.2,683.2 464.7,683.7 464.7,686.9 467.7,687.4 467.7,694.9 470.7,696.1 470.7,718.6 473.7,721.1 473.7,741.6 476.7,737.4 476.7,709.9 479.7,702.4 479.7,652.4 482.7,642.4 482.7,583.8 484.7,580 484.7,573.5 484.7,533.6 487.7,527.3 487.7,496.1 490.9,501.1 490.9,523.6 493.9,534.8 493.9,579.8 493.9,590 496.9,598.7 496.9,657.4 499.9,664.9 499.9,706.1 502.9,712.4 502.9,747.4 505.9,752.3 505.9,777.3 508.9,778.6 508.9,781.1 511.9,779.8 511.9,777.3 514.9,774.8 514.9,766.1 517.9,763.6 517.9,752.3 520.9,749.9 520.9,738.6 523.9,734.9 523.9,722.4 526.9,714.9 526.9,681.2 529.9,676.2 529.9,656.2 532.9,652.4 532.9,640 535.9,639.5 535.9,636.2 538.9,633.7 538.9,614.5 541.9,613.7 541.9,617 544.9,612.5 544.9,608.7 547.9,595 548.9,580 548.9,518.6 551.9,514.8 551.9,495.4 554.9,495.4 557.9,494.9 560.8,498.6 560.8,516.1 564.1,528.6 564.1,579.8 564.1,586.2 567.1,597.5 567.1,654.9 570.1,663.7 570.1,702.4 573.1,708.6 573.1,743.6 576.1,748.6 576.1,776.1 579.1,778.6 579.1,786.1 582.1,784.8 582.1,781.1 584.6,779.8 584.6,764.8 587.6,759.8 587.6,729.9 590.6,724.9 590.6,702.4 593.6,697.4 593.6,673.7 596.6,667.4 596.6,647.4 599.6,641.2 599.6,623.7 602.6,622.5 602.6,620 605.5,618.7 605.5,610 607.5,611.2 607.5,622.5 610.5,622 610.5,617.5 613.5,614.5 613.5,606.2 616.5,603.7 616.5,591.2 619.5,586.2 619.5,580 619.5,559.3 621.8,552.3 621.8,511.8 624.8,507.8 624.8,488.6 627.8,488.1 627.8,484.1 630.8,484.9 630.8,489.9 633.8,497.4 633.8,533.6 636.8,539.8 636.8,576 639.5,579.8 639.5,606.2 642.5,612.5 642.5,633.7 645.5,641.2 645.5,676.2 648.5,679.9 648.5,696.1 651.5,698.6 651.5,706.9 654.5,706.1 654.5,703.6 657.5,702.4 660.5,696.1 660.5,674.9 663.5,672.9 663.5,661.9 665.5,661.9 665.5,664.9 668.5,665.7 671.5,667.4 671.5,673.7 674.5,674.9 674.5,681.9 677.5,681.2 680,678.7 680,667.4 683,666.2 683,652.4 686,649.9 686,631.2 689,627.5 689,603.7 692,597.5 692,580 692,566 695,561 695,535.3 698,537.3 698,551.5 701,554.8 701,571 704.2,577.3 704.2,579.8 704.2,603.7 707.2,612.5 707.2,657.4 710.2,666.2 710.2,708.6 713.2,713.6 713.2,734.9 716.2,738.6 716.2,758.6 719.2,762.3 719.2,777.3 721.7,775.6 721.7,763.6 724.7,758.6 724.7,734.9 727.7,729.9 727.7,704.9 730.7,699.9 730.7,673.7 733.7,669.9 733.7,655.4 736.7,656.2 738.7,659.4 738.7,673.7 741.7,676.2 741.7,692.4 744.7,694.9 744.7,699.4 747.7,698.1 747.7,691.1 750.7,689.4 750.7,682.4 753.7,681.2 756.7,673.7 756.7,637.5 759.7,631.2 759.7,602.5 762.6,596.2 762.6,580 762.6,564.8 764.9,563.5 764.9,551.5 767.9,549.3 767.9,534.3 770.9,539.8 770.9,564.8 774.4,576 774.4,579.8 774.4,618.7 777.4,627.5 777.4,668.7 780.4,674.9 780.4,707.4 783.4,712.4 783.4,733.6 786.4,736.1 786.4,746.9 789.4,748.6 789.4,752.8 791.9,750.6 791.9,737.4 794.9,734.9 794.9,726.1 797.9,724.9 797.9,721.1 800.9,719.9 800.9,716.1 803.9,712.4 803.9,698.6 806.4,699.4 806.4,702.9 809.4,698.6 809.4,671.9 812.4,669.4 812.4,658.7 815.4,657.4 815.4,654.9 818.4,658.7 818.4,675.7 821.4,674.9 821.4,671.2 824.4,668.7 824.4,660.4 827.3,656.2 827.3,642.4 830.3,631.2 830.3,580 830.3,571 832.1,554.8 832.1,471.1 835.1,466.9 835.1,441.9 838.1,448.6 838.1,479.1 841.1,484.9 841.1,513.6 844.3,528.6 844.3,579.8 844.3,598.7 847.3,612.5 847.3,684.9 850.3,693.6 850.3,736.1 853.3,741.1 853.3,756.8 856.3,756.8 859.3,757.3 862.3,756.1 864.8,753.6 864.8,744.9 867.8,741.1 867.8,726.9 870.8,724.4 870.8,713.6 873.8,713.1 876.8,714.4 876.8,702.9 879.8,702.4 879.8,694.4 882.8,693.1 882.8,686.9 885.8,686.6 888.3,687.4 888.3,693.6 891.3,696.1 891.3,714.9 894.3,717.4 894.3,726.1 897.3,721.1 897.3,696.1 900.3,688.6 900.3,654.9 903.3,646.2 903.3,595 906.3,587.5 906.3,580 906.3,557.8 908,553.5 908,530.3 911.3,536.8 911.3,564.8 914.8,578.5 914.8,579.8 914.8,626.2 917.8,637.5 917.8,686.1 920.8,693.6 920.8,728.6 923.8,733.6 923.8,766.1 926.8,769.8 926.8,785.3 929.2,784.3 929.2,778.1 932.2,777.3 935.2,774.8 935.2,766.1 938.2,762.3 938.2,743.6 941.2,739.9 941.2,721.9 944.2,721.1 944.2,718.6 947.2,716.1 947.2,707.9 949.7,706.9 949.7,703.1 952.7,704.9 952.7,714.9 955.7,716.1 955.7,729.9 958.7,731.1 958.7,732.9 961.7,732.4 964.7,729.9 964.7,722.9 967.2,718.6 967.2,701.9 970.2,694.9 970.2,659.9 973.2,652.4 973.2,616.2 976.2,610 976.2,583.8 978.2,580 978.2,554 981.2,555.5 981.2,563.5 984.2,569.8 984.2,579.8 984.2,598.7 987.7,607.5 987.7,646.2 990.7,653.7 990.7,687.4 993.7,694.9 993.7,736.1 996.7,738.6 996.7,746.1 999.7,747.4 999.7,754.8 1002.2,755.3 1005.2,753.6 1005.2,741.1 1008.2,736.1 1008.2,714.9 1011.2,706.1 1011.2,667.4 1014.2,658.7 1014.2,618.7 1016.7,611.2 1016.7,580 1016.7,571.8 1019.2,563.5 1019.2,529.8 1022.2,526.1 1022.2,509.8 1025.2,511.8 1025.2,524.3 1028.2,524.8 1028.2,531.1 1031.2,533.6 1031.2,546.8 1034.2,548.5 1034.2,556.8 1036.7,551 1036.7,518.6 1039.7,507.3 1039.7,451.9 1042.7,443.6 1042.7,401.2 1045.4,396.2 1045.4,370 1048.9,372 1048.9,382.4 1051.9,391.2 1051.9,433.7 1054.9,448.6 1054.9,521.1 1057.6,533.6 1057.6,579.8 1057.6,595 1060.6,608.7 1060.6,671.2 1063.6,678.7 1063.6,709.9 1066.6,717.4 1066.6,748.6 1069.6,752.3 1069.6,772.3 1072.6,774.8 1072.6,788.1 1075.1,786.8 1075.1,778.6 1078.1,772.3 1078.1,743.6 1081.1,737.4 1081.1,723.6 1084.1,719.9 1084.1,701.9 1087.1,699.9 1087.1,686.9 1090.1,686.1 1090.1,679.9 1092.6,680.7 1092.6,684.9 1095.6,684.4 1095.6,679.9 1098.6,676.2 1098.6,659.9 1101.6,656.2 1101.6,640 1104.6,635 1104.6,612.5 1107.6,608.7 1107.6,590 1110.6,585 1110.6,580 1110.6,564.3 1112.6,562.3 1112.6,551 1116.1,551 1119.1,554.3 1119.1,569.3 1121.6,570.3 1121.6,577.3 1123.3,579.8 1125.1,582.5 1125.1,612.5 1128.1,620 1128.1,653.7 1131.1,659.9 1131.1,687.4 1134.1,692.4 1134.1,714.9 1137.1,722.4 1137.1,752.3 1140.1,754.8 1140.1,766.1 1143.1,765.3 1143.1,757.8 1146.1,756.1 1146.1,741.1 1148.6,738.6 1148.6,721.1 1151.5,716.1 1151.5,687.4 1154.5,681.2 1154.5,661.2 1157.5,658.7 1157.5,643.7 1160.5,637.5 1160.5,617.5 1163.5,611.2 1163.5,582 1166.5,581.2 1167.8,579 1167.8,571 1171,572.8 1171,579.8 1171,581.2 1174,582.5 1174,587 1177,585.5 1177,580 1177,577.3 1179.5,571 1179.5,543.6 1182.5,539.8 1182.5,521.1 1185.5,519.1 1185.5,508.8 1188.8,511.1 1188.8,521.8 1191.8,529.3 1191.8,563.5 1194.8,569.8 1194.8,579.8 1195.3,598.7 1198.3,607.5 1198.3,653.7 1201.3,661.2 1201.3,693.6 1204.3,697.4 1204.3,714.9 1207.2,718.6 1207.2,733.6 1209.8,736.1 1209.8,749.4 1212.2,746.1 1212.2,743.6 1212.2,723.6 1215.2,717.4 1215.2,689.9 1218.2,683.7 1218.2,653.7 1221.2,646.2 1221.2,607.5 1224.2,603.7 1224.2,582.5 1226.2,580 1226.2,577.3 1229.2,572.3 1229.2,554 1232.2,553 1235.5,559.8 1235.5,579.8 1235.5,588.7 1238.5,591.2 1238.5,597.5 1241.5,600 1241.5,617.5 1244.5,626.2 1244.5,666.2 1247.5,669.9 1247.5,692.4 1250.5,689.4 1250.5,676.2 1253,671.2 1253,651.2 1256,646.2 1256,618.7 1259,615 1259,596.2 1262,594.5 1262,582 1265,582 1267.9,587.5 1267.9,611.2 1270.9,616.2 1270.9,643.7 1273.9,647.4 1273.9,673.7 1276.9,678.7 1276.9,707.4 1279.9,709.9 1279.9,724.9 1282.9,726.1 1285.4,723.6 1285.4,709.9 1288.4,702.4 1288.4,667.4 1291.4,658.7 1291.4,613.7 1294.4,606.2 1294.4,580 1294.4,579 1296.7,579.8 1296.7,583.8 1299.9,582 1299.9,580 1299.9,574.3 1302.4,571.8 1302.4,561 1305.4,563.5 1305.4,575.5 1308.2,573.5 1308.2,564.8 1311.2,559.3 1311.2,536.8 1314.2,536.8 1316.7,538.6 1316.7,543.6 1319.9,528.6 1319.9,462.4 1322.9,454.9 1322.9,421.9 1325.9,423.7 1325.9,436.1 1328.9,438.6 1328.9,453.1 1331.9,458.6 1331.9,488.6 1334.9,506.1 1334.9,579.8 1334.9,587.5 1337.9,600 1337.9,668.7 1340.9,674.9 1340.9,696.1 1343.9,702.4 1343.9,723.6 1346.9,727.4 1346.9,742.4 1349.9,740.6 1349.9,734.4 1352.9,734.4 1352.9,737.4 1355.4,734.9 1355.4,723.6 1358.4,719.9 1358.4,702.4 1361.4,696.1 1361.4,670.4 1364.4,669.4 1364.4,663.2 1367.3,663.7 1367.3,669.4 1370.3,670.4 1370.3,676.2 1373.3,677.4 1375.8,681.2 1375.8,703.6 1378.8,707.4 1378.8,727.4 1381.8,723.6 1381.8,699.9 1384.8,698.6 1387.8,689.9 1387.8,666.2 1390.8,658.7 1390.8,616.2 1393.8,611.2 1393.8,591.2 1396.3,595 1396.3,621.2 1399.3,622.5 1399.3,628.7 1402.3,636.2 1402.3,673.7 1405.3,681.2 1405.3,721.1 1408.3,724.9 1408.3,744.9 1411.3,745.4 1413.8,746.9 1413.8,753.6 1416.8,754.1 1419.8,754.8 1422.8,753.6 1422.8,745.4 1425.8,743.6 1425.8,732.4 1428.8,729.9 1428.8,714.9 1431.8,709.9 1431.8,689.9 1434.8,687.4 1434.8,674.4 1437.8,674.4 1437.8,678.7 1440.3,677.4 1440.3,669.9 1443.3,669.4 1446.3,668.7 1446.3,662.4 1449.3,659.9 1449.3,637.5 1452.3,632.5 1452.3,607 1455.3,611.2 1455.3,607.5 1458.3,605 1458.3,580 1458.3,579.8 1460.3,574.8 1460.3,551 1463.3,546.1 1463.3,528.6 1466.3,527.8 1466.3,522.3 1468.8,519.8 1468.8,508.6 1471.8,512.8 1471.8,534.8 1474.8,542.8 1474.8,579.8 1475.3,582.5 1478.2,590 1478.2,638.7 1481.2,647.4 1481.2,689.9 1484.2,697.4 1484.2,733.6 1487.2,738.6 1487.2,767.3 1490.2,772.3 1490.2,794.3 1493.2,796.8 1493.2,807.8 1495.7,809.3 1495.7,813.5 1498.7,808.5 1498.7,784.8 1501.7,778.6 1501.7,744.9 1504.2,738.6 1504.2,707.4 1507.2,706.9 1507.2,698.6 1510.2,695.4 1510.2,680.4 1513.2,681.9 1513.2,693.6 1516.2,696.9 1516.2,713.6 1519.2,717.4 1519.2,737.9 1522.2,736.1 1522.2,724.4 1525.2,721.1 1525.2,697.4 1528.2,691.1 1528.2,661.2 1531.2,653.7 1531.2,620 1534.2,611.2 1534.2,580 1534.2,564.8 1536,556 1536,514.8 1539,512.3 1539,501.1 1542,504.3 1542,521.8 1544.9,529.3 1544.9,563.5 1547.9,571 1547.9,579.8 1547.9,610 1550.9,618.7 1550.9,667.4 1553.9,676.2 1553.9,724.9 1556.9,729.9 1556.9,753.6 1559.9,754.8 1559.9,761.8 1562.9,762.8 1562.9,768.6 1565.9,767.8 1565.9,761.8 1568.4,758.6 1568.4,737.4 1571.4,731.1 1571.4,711.1 1574.4,706.1 1574.4,682.4 1577.4,674.9 1577.4,638.7 1580.4,636.2 1580.4,625 1583.4,621.2 1583.4,605 1586.4,602.5 1586.4,588.7 1589.4,587.5 1589.4,584.5 1591.9,586.2 1591.9,597.5 1594.9,592.5 1594.9,580 1594.9,566 1597.2,559.8 1597.2,529.8 1600.1,521.8 1600.1,487.4 1603.1,483.6 1603.1,466.9 1606.1,466.9 1609.1,472.9 1609.1,499.9 1612.1,508.6 1612.1,554.8 1615.1,564.8 1615.1,579.8 1615.1,617.5 1618.1,623.7 1618.1,649.4 1621.1,650.7 1621.1,656.2 1624.1,659.9 1624.1,676.2 1627.1,681.2 1627.1,703.6 1630.1,707.4 1630.1,723.6 1633.1,726.1 1633.1,739.9 1636.1,741.1 1636.1,748.6 1638.6,744.9 1638.6,727.4 1641.6,722.4 1641.6,699.9 1644.6,689.9 1644.6,643.7 1647.6,637.5 1647.6,610.7 1650.6,608.7 1650.6,598.7 1653.6,599.5 1653.6,606.2 1656.6,607 1659.6,611.2 1659.6,630 1662.6,632.5 1662.6,644.9 1665.1,643.2 1665.1,630 1668.1,625 1668.1,595 1671.1,590 1671.1,580 1671.1,560.5 1673.3,556.8 1673.3,544.3 1676.3,541.8 1676.3,529.3 1679.3,532.8 1679.3,550.5 1682.3,554.3 1682.3,571.8 1685.1,576.8 1685.1,579.8 1685.1,597.5 1688.1,602.5 1688.1,618.7 1691.1,622.5 1691.1,642.4 1694.1,646.2 1694.1,667.4 1697.1,671.2 1697.1,693.6 1700,694.9 1702.5,695.6 1702.5,691.1 1705.5,687.4 1705.5,667.4 1708.5,661.2 1708.5,625 1711.5,617.5 1711.5,591.2 1714.5,585 1714.5,580 1714.5,565.3 1717,562.3 1717,546.8 1720,547.8 1720,551.5 1723,551.8 1723,557.3 1726,561.8 1726,579.8 1726.5,582.5 1729.5,588.7 1729.5,621.2 1732.5,625 1732.5,646.2 1735.5,648.7 1735.5,659.9 1738.5,658.2 1738.5,643.7 1741,637.5 1741,598.7 1744,591.2 1744,580 1744,557.3 1746.3,554 1746.3,539.3 1749.3,537.8 1749.3,529.8 1752.3,534.3 1752.3,556 1755.2,562.3 1755.2,579.8 1755.2,592.5 1758.2,598.7 1758.2,644.9 1761.2,651.2 1761.2,679.9 1764.4,684.9 1764.4,708.6 1767.4,713.6 1767.4,737.4 1769.9,739.9 1769.9,754.3 1772.9,754.3 1775.4,750.4 1775.4,733.6 1778.4,727.4 1778.4,692.4 1781.4,688.6 1781.4,667.4 1784.4,666.9 1784.4,660.7 1787.4,659.9 1787.4,657.4 1790.4,656.2 1790.4,647.9 1793.4,649.4 1793.4,656.7 1796.4,656.9 1798.9,654.9 1798.9,646.2 1801.9,644.9 1801.9,636.2 1804.9,637.5 1804.9,644.9 1807.9,643.7 1807.9,636.2 1810.9,630 1810.9,597.5 1813.9,592.5 1813.9,580 1813.9,572.8 1816.4,570.3 1816.4,559 1819.4,557.8 1819.4,555.5 1822.4,559.8 1822.4,576 1823.9,579.8 1825.4,583.8 1825.4,623.7 1828.4,628.7 1828.4,651.2 1831.4,654.9 1831.4,668.7 1834.4,673.7 1834.4,692.4 1837.3,698.6 1837.3,722.4 1840.3,724.9 1840.3,739.9 1842.8,742.4 1842.8,757.3 1845.8,759.8 1845.8,772.3 1848.8,769.8 1848.8,756.1 1851.8,749.9 1851.8,724.9 1854.8,718.6 1854.8,694.9 1857.3,692.4 1857.3,682.4 1860.3,672.4 1860.3,618.7 1863.3,617.5 1863.3,613.7 1866.3,607.5 1866.3,580 1866.3,577.3 1868.8,571 1868.8,544.8 1871.8,537.3 1871.8,502.3 1874.8,504.3 1874.8,516.1 1877.8,508.6 1877.8,472.9 1880.8,468.6 1880.8,449.4 1883.3,446.9 1883.3,435.6 1886.3,438.6 1886.3,451.9 1889.3,453.6 1889.3,463.6 1892.3,472.4 1892.3,509.8 1895.3,522.3 1895.3,579.8 1898.3,593.7 1898.3,664.9 1901.3,669.9 1901.3,696.1 1904.3,702.4 1904.3,729.9 1907.3,732.4 1907.3,744.9 1909.8,745.4 1909.8,756.1 1912.8,753.6 1912.8,740.4 1915.8,739.9 1918.3,737.4 1918.3,724.9 1921.3,719.9 1921.3,701.1 1924.3,696.1 1924.3,676.2 1927.3,673.7 1927.3,661.2 1930.3,659.4 1930.3,646.9 1933.3,646.9 1935.8,651.2 1935.8,667.9 1938.8,668.7 1938.8,672.9 1941.8,674.4 1941.8,682.4 1944.8,683.7 1944.8,688.1 1947.8,684.9 1947.8,666.2 1950.8,656.2 1950.8,612.5 1953.8,608.7 1953.8,585 1956.8,582.5 1956.8,580 1956.8,559.8 1959.2,556.8 1959.2,543.6 1962.2,546.8 1962.2,561 1965.2,566.8 1965.2,579.8 1965.2,591.2 1968.2,597.5 1968.2,628.7 1971.2,633.7 1971.2,658.7 1974.2,664.9 1974.2,692.4 1977.2,698.6 1977.2,716.1 1979.7,719.9 1979.7,743.6 1982.7,742.4 1982.7,738.6 1985.7,736.9 1985.7,727.4 1988.7,721.1 1988.7,688.6 1991.7,684.9 1991.7,667.4 1994.7,663.7 1994.7,648.7 1997.7,644.9 1997.7,627.5 2000.7,628.2 2000.7,635.5 2003.2,639.5 2003.2,663.7 2006.2,664.9 2006.2,676.9 2009.2,676.2 2009.2,671.2 2012.2,673.7 2012.2,681.9 2014.7,681.2 2014.7,672.4 2017.7,658.7 2017.7,591.2 2020.7,581.2 2020.7,580 2020.7,521.1 2023.7,514.3 2023.7,481.9 2026.7,479.9 2026.7,468.6 2029.2,467.4 2029.2,458.6 2032.2,471.9 2032.2,523.6 2035.2,533.6 2035.2,579.8 2035.2,585 2038.2,597.5 2038.2,658.7 2041.2,664.9 2041.2,698.6 2044.2,703.6 2044.2,729.9 2047.2,734.9 2047.2,763.6 2049.7,767.3 2049.7,788.6 2052.7,789.1 2055.7,787.3 2055.7,777.3 2058.7,771.1 2058.7,743.6 2061.7,737.4 2061.7,707.4 2064.7,696.1 2064.7,641.2 2067.7,635 2067.7,608.7 2070.2,607.5 2070.2,598 2073.1,598.7 2073.1,604.5 2076.1,607.5 2076.1,628.7 2079.1,636.2 2079.1,674.9 2082.1,677.4 2082.1,688.1 2084.6,689.1 2084.6,692.4 2087.6,689.9 2087.6,674.9 2090.6,666.2 2090.6,632.5 2093.6,625 2093.6,592.5 2096.6,588.7 2096.6,580 2096.6,564.3 2099.4,560.3 2099.4,544.8 2102.4,547.3 2102.4,559.8 2105.1,564.8 2105.1,579.8 2105.1,587.5 2108.1,591.2 2108.1,611.2 2111.1,615 2111.1,632.5 2114.1,636.2 2114.1,662.4 2117.1,663.7 2117.1,667.9 2119.6,664.9 2119.6,646.9 2122.6,645.4 2122.6,636.2 2125.6,632.5 2125.6,605 2128.6,595 2128.6,580 2128.6,544.3 2131.6,532.3 2131.6,475.4 2134.6,480.4 2134.6,504.3 2137.1,505.3 2137.1,509.8 2140.1,517.3 2140.1,551 2143.1,563.5 2143.1,579.8 2143.1,623.7 2146.1,637.5 2146.1,702.4 2149.1,702.9 2149.1,701.1 2152.1,707.4 2152.1,732.4 2155.1,730.6 2155.1,719.9 2158.1,709.9 2158.1,654.9 2161.1,647.4 2161.1,602.5 2163.6,590 2163.6,580 2163.6,510.3 2166.6,503.6 2166.6,471.1 2169.6,467.4 2169.6,452.9 2172.6,456.1 2172.6,474.9 2175.1,480.4 2175.1,509.3 2178.1,523.6 2178.1,579.8 2178.1,597 2181.1,596.2 2181.1,592.5 2183.8,590 2183.8,580 2183.8,569.8 2186.8,568.5 2186.8,562.3 2189.8,559.3 2189.8,547.3 2192.8,546.8 2192.8,542.3 2195.8,549.3 2195.8,579.8 2198.8,587.5 2198.8,618.7 2201.8,623.7 2201.8,646.2 2204.8,647.9 2204.8,661.2 2207.3,663.7 2207.3,676.2 2210.3,668.7 2210.3,632.5 2213.3,633.7 2213.3,640 2215.5,641.2 2215.5,652.4 L2215.5,652.4" fill="none" stroke="#7428ff" stroke-width="1.5" stroke-linejoin="round"/>
<line x1="114.8" y1="56" x2="114.8" y2="865.5" stroke="#6b6b7b" stroke-width="1.4"/>
<line x1="114" y1="864.9" x2="2215.5" y2="864.9" stroke="#6b6b7b" stroke-width="1.4"/>
<path d="M115.5,935.1 C116.5,934.8 119.3,934.1 121.3,933.1 C123.3,932.1 125.5,932.3 127.6,928.8 C129.7,925.3 132.2,914.8 133.8,912 C135.5,909.3 136.3,910.9 137.6,912 C138.9,913.2 140.1,915.4 141.4,918.8 C142.6,922.2 143.9,928.4 145.1,932.6 C146.4,936.8 147.5,941.5 148.9,943.9 C150.2,946.3 151.3,946.6 153.2,947.1 C155,947.7 158.1,948.1 160.2,947.1 C162.3,946.2 163.8,943.3 165.7,941.4 C167.6,939.5 169.4,936.8 171.4,935.6 C173.5,934.4 175.6,934.1 177.7,934.4 C179.8,934.6 181.1,935.2 184,937.1 C186.9,939 192.3,945.4 195.3,945.9 C198.2,946.4 199.5,941.9 201.5,940.1 C203.5,938.3 205.4,935.7 207.3,935.1 C209.2,934.6 210.6,935.8 212.8,936.9 C215,937.9 217,940.2 220.3,941.4 C223.7,942.5 229.1,944.2 232.9,943.9 C236.6,943.5 240,940.1 242.9,939.4 C245.8,938.6 247.9,939.2 250.4,939.4 C252.9,939.5 255.1,940.5 257.9,940.1 C260.8,939.7 264.7,939.2 267.5,936.9 C270.2,934.6 272.3,928.1 274.2,926.3 C276.2,924.6 277.6,925.9 279.2,926.3 C280.9,926.8 282.5,926.5 284.3,928.8 C286.1,931.1 287.7,937.5 290,940.1 C292.3,942.8 295.4,943.6 298,944.6 C300.6,945.6 302.9,946.2 305.6,946.1 C308.3,946.1 311,945.4 314.3,944.4 C317.7,943.4 322.3,941.5 325.6,940.1 C329,938.7 331.8,937 334.4,935.9 C337,934.7 338.9,933.5 341.2,933.4 C343.5,933.2 344.9,933.4 348.2,935.1 C351.4,936.8 356.1,941 360.7,943.4 C365.3,945.8 371.2,949.3 375.8,949.4 C380.4,949.5 385.3,945.8 388.3,943.9 C391.3,942 391.7,938.7 393.8,938.1 C395.9,937.6 398.5,939.5 400.8,940.6 C403.2,941.7 405.8,945.1 407.9,944.6 C409.9,944.1 411.5,939.3 413.4,937.6 C415.2,935.9 417.2,934.6 418.9,934.6 C420.6,934.6 420.8,935.4 423.4,937.6 C426,939.8 431.5,945.7 434.7,947.6 C437.8,949.6 439.5,949.4 442.2,949.4 C444.9,949.4 447.4,948.5 451,947.6 C454.5,946.8 460.4,944.6 463.5,944.1 C466.6,943.6 467.7,944.1 469.8,944.6 C471.9,945.1 473.7,948.1 476,947.1 C478.3,946.2 481.3,941 483.6,938.9 C485.8,936.8 487.9,934.8 489.8,934.6 C491.7,934.4 492.3,935.5 494.8,937.6 C497.3,939.7 502.1,945.2 504.9,947.1 C507.6,949.1 508.4,949.1 511.1,949.1 C513.8,949.1 517.8,948.2 521.2,947.1 C524.5,946.1 527.8,943.7 531.2,942.6 C534.5,941.5 538.7,941 541.2,940.6 C543.7,940.2 544.1,941.1 546.2,940.1 C548.3,939.1 551.2,935.5 553.8,934.6 C556.3,933.7 558.8,933.5 561.3,934.6 C563.8,935.7 566.1,939 568.8,941.4 C571.5,943.7 575.1,947.4 577.6,948.6 C580.1,949.9 581.5,949.7 583.8,949.1 C586.1,948.6 588.6,946.5 591.4,945.1 C594.1,943.8 597.2,941.6 600.1,940.9 C603.1,940.1 606.2,940.8 608.9,940.6 C611.6,940.4 613.7,940.7 616.4,939.6 C619.1,938.6 622.5,935.2 625.2,934.4 C627.9,933.5 630,933.5 632.7,934.4 C635.4,935.2 638.4,937.9 641.5,939.6 C644.6,941.3 647.6,944.1 651.5,944.6 C655.4,945.1 660.7,942.8 665,942.6 C669.4,942.5 673.8,944.1 677.6,943.9 C681.3,943.7 684.3,942.6 687.6,941.4 C690.9,940.1 694.4,936.8 697.1,936.4 C699.8,935.9 701.1,937.1 703.9,938.9 C706.7,940.6 711,945.2 713.9,946.9 C716.8,948.6 718.1,949.6 721.4,948.9 C724.8,948.2 730,943.3 734,942.6 C737.9,941.9 741.7,944.4 745.2,944.6 C748.8,944.8 752.1,945 755.3,943.9 C758.4,942.8 761.5,939.3 764,938.1 C766.6,937 768,936.1 770.3,936.9 C772.6,937.6 774.9,940.8 777.8,942.6 C780.8,944.5 784.5,947.5 787.9,948.1 C791.2,948.8 794.5,947 797.9,946.4 C801.2,945.8 805.2,945.3 807.9,944.6 C810.6,944 812.1,942.8 814.2,942.6 C816.3,942.4 818.2,943.6 820.5,943.4 C822.8,943.2 825.7,943.2 828,941.4 C830.3,939.6 832.6,934.1 834.2,932.6 C835.9,931.1 836.5,931.7 838,932.1 C839.5,932.5 840.5,932.6 843,935.1 C845.5,937.6 849.7,945.1 853,947.1 C856.4,949.2 859.7,947.9 863.1,947.6 C866.4,947.4 869.5,946.2 873.1,945.6 C876.7,945.1 880.6,944.1 884.4,944.1 C888.1,944.2 892.1,947.1 895.7,946.1 C899.2,945.1 903.3,939.7 905.7,938.1 C908.1,936.6 908.3,936.1 910.2,936.9 C912.1,937.6 914,940.5 917,942.6 C920,944.7 925.1,948.4 928.2,949.4 C931.4,950.4 933.3,949 935.8,948.4 C938.3,947.8 940.8,946.4 943.3,945.9 C945.8,945.3 947.9,945 950.8,945.1 C953.7,945.3 958.1,946.9 960.8,946.9 C963.6,946.9 964.6,946.5 967.1,945.1 C969.6,943.8 973.6,940.1 975.9,938.9 C978.2,937.6 979,937.3 980.9,937.6 C982.8,938 984.4,939.3 987.2,940.9 C989.9,942.5 994.3,946 997.2,947.1 C1000.1,948.3 1001.8,948.8 1004.7,947.6 C1007.6,946.5 1011.8,942.2 1014.7,940.1 C1017.7,938 1020,935.8 1022.3,935.1 C1024.6,934.4 1026.2,935.5 1028.5,935.9 C1030.8,936.2 1033.6,938.2 1036,937.1 C1038.5,936.1 1041.1,931.2 1043.1,929.6 C1045.1,928 1046.3,927.3 1048.1,927.6 C1049.8,927.9 1051,928.6 1053.6,931.4 C1056.2,934.1 1060.4,940.8 1063.6,943.9 C1066.9,946.9 1069.4,949.5 1073.2,949.6 C1076.9,949.8 1082.3,945.6 1086.2,944.6 C1090,943.6 1092.9,944.4 1096.2,943.6 C1099.6,942.9 1103.1,941.2 1106.2,940.1 C1109.4,939 1112.1,937.3 1115,937.1 C1117.9,936.9 1120.7,937.5 1123.8,938.9 C1126.9,940.2 1131,943.6 1133.8,945.1 C1136.7,946.7 1137.9,948.4 1140.8,948.1 C1143.8,947.9 1147.5,945.4 1151.4,943.9 C1155.2,942.3 1159.9,939.7 1163.9,938.9 C1167.9,938 1171.4,939.3 1175.2,938.6 C1178.9,937.9 1183.3,934.8 1186.5,934.6 C1189.6,934.4 1191.1,935.9 1194,937.6 C1196.9,939.3 1201.3,943.2 1204,944.6 C1206.7,946.1 1207.2,947.1 1210.3,946.4 C1213.4,945.6 1219,941.6 1222.5,940.1 C1226.1,938.7 1228.4,937.7 1231.3,937.6 C1234.2,937.5 1237.2,938.5 1240.1,939.6 C1243,940.7 1245.9,944.3 1248.9,944.4 C1251.8,944.5 1255.1,941 1257.6,940.1 C1260.1,939.2 1261.6,938.5 1263.9,938.9 C1266.2,939.2 1268.7,940.9 1271.4,942.1 C1274.1,943.4 1277.9,945.8 1280.2,946.4 C1282.5,947 1282.9,947.1 1285.2,945.9 C1287.5,944.7 1290.6,940.7 1294,939.4 C1297.3,938.1 1301.7,938.6 1305.3,938.1 C1308.8,937.6 1312.9,936.9 1315.3,936.4 C1317.7,935.9 1318.2,936.1 1319.8,935.1 C1321.4,934.1 1322.9,930.9 1324.8,930.6 C1326.8,930.3 1329,930.9 1331.6,933.1 C1334.2,935.3 1337.4,941.5 1340.4,943.9 C1343.3,946.2 1346.6,946.7 1349.2,947.1 C1351.7,947.6 1352.9,947.4 1355.4,946.6 C1357.9,945.9 1361.3,943.2 1364.2,942.6 C1367.1,942.1 1370.2,942.8 1373,943.4 C1375.7,943.9 1378.2,945.8 1380.5,945.9 C1382.8,946 1384.5,944.8 1386.8,943.9 C1389,942.9 1392,940.5 1394.3,940.1 C1396.6,939.8 1398,940.7 1400.5,941.9 C1403,943 1406.4,946.2 1409.3,947.1 C1412.2,948.1 1415.4,947.7 1418.1,947.6 C1420.8,947.6 1422.9,947.3 1425.6,946.6 C1428.3,946 1431,944.5 1434.4,943.9 C1437.7,943.2 1442.3,943.3 1445.7,942.6 C1449,942 1451.1,941.4 1454.4,940.1 C1457.8,938.9 1462.8,935.9 1465.7,935.1 C1468.6,934.4 1469.5,934.1 1472,935.6 C1474.5,937.1 1477.6,941.5 1480.8,943.9 C1483.9,946.3 1488.3,949 1490.8,950.1 C1493.3,951.3 1493.3,951.5 1495.8,950.6 C1498.3,949.8 1503.1,946.2 1505.8,945.1 C1508.5,944.1 1509.6,944.1 1512.1,944.4 C1514.6,944.7 1518.2,947.1 1520.9,946.9 C1523.6,946.7 1525.5,945.3 1528.4,943.4 C1531.3,941.4 1535.7,936.2 1538.4,935.1 C1541.1,934.1 1541.5,935 1544.7,937.1 C1547.8,939.2 1553.9,945.8 1557.2,947.6 C1560.6,949.5 1561.2,949.2 1564.7,948.1 C1568.3,947.1 1575,942.8 1578.5,941.4 C1582.1,940 1583.5,940 1586,939.6 C1588.6,939.2 1591.1,940.1 1593.6,939.1 C1596.1,938.2 1598.8,934.9 1601.1,933.9 C1603.4,932.9 1604.9,931.8 1607.4,933.1 C1609.9,934.4 1613.6,939.7 1616.1,941.4 C1618.6,943.1 1619.9,942.3 1622.4,943.1 C1624.9,944 1628.7,946 1631.2,946.6 C1633.7,947.3 1634.7,948 1637.4,946.9 C1640.2,945.8 1644.3,941.2 1647.5,940.1 C1650.6,939.1 1653.5,940.3 1656.2,940.6 C1659,940.9 1661,942.5 1663.8,941.9 C1666.5,941.3 1670,937.8 1672.5,936.9 C1675,936 1676.1,935.7 1678.8,936.4 C1681.5,937 1685.7,939.3 1688.8,940.6 C1692,942 1695.1,943.8 1697.6,944.4 C1700.1,945 1701.2,945.4 1703.9,944.4 C1706.6,943.4 1711.2,939.6 1713.9,938.4 C1716.6,937.1 1718.1,936.9 1720.2,936.9 C1722.3,936.8 1723.9,937.2 1726.4,938.1 C1728.9,939.1 1732.3,942.9 1735.2,942.6 C1738.1,942.3 1741.5,937.5 1744,936.4 C1746.5,935.2 1748,935 1750.2,935.6 C1752.5,936.2 1755.3,938.6 1757.8,940.1 C1760.2,941.6 1762.9,943.4 1765,944.6 C1767.2,945.9 1767.7,948 1770.5,947.6 C1773.3,947.3 1778.2,943.5 1781.8,942.6 C1785.3,941.7 1788.1,942.3 1791.8,942.1 C1795.6,941.9 1800.6,942 1804.4,941.4 C1808.1,940.7 1811.5,938.7 1814.4,938.1 C1817.3,937.6 1819,937.3 1821.9,938.1 C1824.8,939 1828,941.4 1831.9,943.1 C1835.9,944.8 1841.1,948.5 1845.7,948.4 C1850.3,948.3 1855.1,944.8 1859.5,942.6 C1863.9,940.4 1868.7,936.9 1872,935.1 C1875.4,933.4 1877.1,932.7 1879.6,932.1 C1882.1,931.5 1884.8,930.9 1887.1,931.4 C1889.4,931.8 1891.1,932.5 1893.3,934.6 C1895.6,936.7 1898.4,941.7 1900.9,943.9 C1903.4,946.1 1905.5,947.2 1908.4,947.6 C1911.3,948.1 1914.7,947.4 1918.4,946.4 C1922.2,945.4 1926.8,942.3 1931,941.9 C1935.1,941.5 1939.9,944.3 1943.5,943.9 C1947,943.5 1949.6,940.5 1952.3,939.4 C1955,938.2 1957.1,936.7 1959.8,936.9 C1962.5,937.1 1964.8,938.8 1968.6,940.6 C1972.3,942.4 1978.6,947.1 1982.3,947.6 C1986.1,948.2 1988.4,944.9 1991.1,943.9 C1993.8,942.8 1995.7,941.5 1998.6,941.4 C2001.6,941.3 2006,943.2 2008.7,943.4 C2011.4,943.6 2012.9,944 2014.9,942.6 C2017,941.3 2018.9,936.7 2021.2,935.1 C2023.5,933.5 2026.2,932.3 2028.7,933.1 C2031.2,933.9 2033.3,937.2 2036.2,939.6 C2039.2,942 2043.3,946 2046.3,947.6 C2049.2,949.3 2051.3,949.8 2053.8,949.4 C2056.3,949 2058.8,946.7 2061.3,945.1 C2063.8,943.6 2066.3,940.8 2068.8,940.1 C2071.3,939.4 2073.9,940.2 2076.4,940.9 C2078.9,941.6 2081.4,944.3 2083.9,944.4 C2086.4,944.5 2088.7,942.6 2091.4,941.4 C2094.1,940.2 2097.5,937.4 2100.2,937.1 C2102.9,936.8 2105,938.6 2107.7,939.6 C2110.4,940.6 2113.5,943 2116.5,943.1 C2119.4,943.3 2122.5,942.3 2125.2,940.6 C2128,939 2130.5,934.2 2132.8,933.4 C2135.1,932.5 2136.5,933.6 2139,935.6 C2141.5,937.6 2145.3,943.3 2147.8,945.1 C2150.3,946.9 2151.6,947.9 2154.1,946.4 C2156.6,944.9 2160.3,938.7 2162.8,936.4 C2165.3,934 2167,932.4 2169.1,932.1 C2171.2,931.8 2173.5,933.4 2175.4,934.6 C2177.3,935.9 2177.7,939.2 2180.4,939.6 C2183.1,940 2188.3,936.7 2191.7,936.9 C2195,937.1 2197.3,939.7 2200.4,940.9 C2203.6,942 2208.2,943.4 2210.5,943.9 C2212.7,944.4 2213.4,943.9 2214,943.9 L2214,960.7 L115.5,960.7 Z" fill="url(#mg)" stroke="none"/>
<path d="M115.5,935.1 C116.5,934.8 119.3,934.1 121.3,933.1 C123.3,932.1 125.5,932.3 127.6,928.8 C129.7,925.3 132.2,914.8 133.8,912 C135.5,909.3 136.3,910.9 137.6,912 C138.9,913.2 140.1,915.4 141.4,918.8 C142.6,922.2 143.9,928.4 145.1,932.6 C146.4,936.8 147.5,941.5 148.9,943.9 C150.2,946.3 151.3,946.6 153.2,947.1 C155,947.7 158.1,948.1 160.2,947.1 C162.3,946.2 163.8,943.3 165.7,941.4 C167.6,939.5 169.4,936.8 171.4,935.6 C173.5,934.4 175.6,934.1 177.7,934.4 C179.8,934.6 181.1,935.2 184,937.1 C186.9,939 192.3,945.4 195.3,945.9 C198.2,946.4 199.5,941.9 201.5,940.1 C203.5,938.3 205.4,935.7 207.3,935.1 C209.2,934.6 210.6,935.8 212.8,936.9 C215,937.9 217,940.2 220.3,941.4 C223.7,942.5 229.1,944.2 232.9,943.9 C236.6,943.5 240,940.1 242.9,939.4 C245.8,938.6 247.9,939.2 250.4,939.4 C252.9,939.5 255.1,940.5 257.9,940.1 C260.8,939.7 264.7,939.2 267.5,936.9 C270.2,934.6 272.3,928.1 274.2,926.3 C276.2,924.6 277.6,925.9 279.2,926.3 C280.9,926.8 282.5,926.5 284.3,928.8 C286.1,931.1 287.7,937.5 290,940.1 C292.3,942.8 295.4,943.6 298,944.6 C300.6,945.6 302.9,946.2 305.6,946.1 C308.3,946.1 311,945.4 314.3,944.4 C317.7,943.4 322.3,941.5 325.6,940.1 C329,938.7 331.8,937 334.4,935.9 C337,934.7 338.9,933.5 341.2,933.4 C343.5,933.2 344.9,933.4 348.2,935.1 C351.4,936.8 356.1,941 360.7,943.4 C365.3,945.8 371.2,949.3 375.8,949.4 C380.4,949.5 385.3,945.8 388.3,943.9 C391.3,942 391.7,938.7 393.8,938.1 C395.9,937.6 398.5,939.5 400.8,940.6 C403.2,941.7 405.8,945.1 407.9,944.6 C409.9,944.1 411.5,939.3 413.4,937.6 C415.2,935.9 417.2,934.6 418.9,934.6 C420.6,934.6 420.8,935.4 423.4,937.6 C426,939.8 431.5,945.7 434.7,947.6 C437.8,949.6 439.5,949.4 442.2,949.4 C444.9,949.4 447.4,948.5 451,947.6 C454.5,946.8 460.4,944.6 463.5,944.1 C466.6,943.6 467.7,944.1 469.8,944.6 C471.9,945.1 473.7,948.1 476,947.1 C478.3,946.2 481.3,941 483.6,938.9 C485.8,936.8 487.9,934.8 489.8,934.6 C491.7,934.4 492.3,935.5 494.8,937.6 C497.3,939.7 502.1,945.2 504.9,947.1 C507.6,949.1 508.4,949.1 511.1,949.1 C513.8,949.1 517.8,948.2 521.2,947.1 C524.5,946.1 527.8,943.7 531.2,942.6 C534.5,941.5 538.7,941 541.2,940.6 C543.7,940.2 544.1,941.1 546.2,940.1 C548.3,939.1 551.2,935.5 553.8,934.6 C556.3,933.7 558.8,933.5 561.3,934.6 C563.8,935.7 566.1,939 568.8,941.4 C571.5,943.7 575.1,947.4 577.6,948.6 C580.1,949.9 581.5,949.7 583.8,949.1 C586.1,948.6 588.6,946.5 591.4,945.1 C594.1,943.8 597.2,941.6 600.1,940.9 C603.1,940.1 606.2,940.8 608.9,940.6 C611.6,940.4 613.7,940.7 616.4,939.6 C619.1,938.6 622.5,935.2 625.2,934.4 C627.9,933.5 630,933.5 632.7,934.4 C635.4,935.2 638.4,937.9 641.5,939.6 C644.6,941.3 647.6,944.1 651.5,944.6 C655.4,945.1 660.7,942.8 665,942.6 C669.4,942.5 673.8,944.1 677.6,943.9 C681.3,943.7 684.3,942.6 687.6,941.4 C690.9,940.1 694.4,936.8 697.1,936.4 C699.8,935.9 701.1,937.1 703.9,938.9 C706.7,940.6 711,945.2 713.9,946.9 C716.8,948.6 718.1,949.6 721.4,948.9 C724.8,948.2 730,943.3 734,942.6 C737.9,941.9 741.7,944.4 745.2,944.6 C748.8,944.8 752.1,945 755.3,943.9 C758.4,942.8 761.5,939.3 764,938.1 C766.6,937 768,936.1 770.3,936.9 C772.6,937.6 774.9,940.8 777.8,942.6 C780.8,944.5 784.5,947.5 787.9,948.1 C791.2,948.8 794.5,947 797.9,946.4 C801.2,945.8 805.2,945.3 807.9,944.6 C810.6,944 812.1,942.8 814.2,942.6 C816.3,942.4 818.2,943.6 820.5,943.4 C822.8,943.2 825.7,943.2 828,941.4 C830.3,939.6 832.6,934.1 834.2,932.6 C835.9,931.1 836.5,931.7 838,932.1 C839.5,932.5 840.5,932.6 843,935.1 C845.5,937.6 849.7,945.1 853,947.1 C856.4,949.2 859.7,947.9 863.1,947.6 C866.4,947.4 869.5,946.2 873.1,945.6 C876.7,945.1 880.6,944.1 884.4,944.1 C888.1,944.2 892.1,947.1 895.7,946.1 C899.2,945.1 903.3,939.7 905.7,938.1 C908.1,936.6 908.3,936.1 910.2,936.9 C912.1,937.6 914,940.5 917,942.6 C920,944.7 925.1,948.4 928.2,949.4 C931.4,950.4 933.3,949 935.8,948.4 C938.3,947.8 940.8,946.4 943.3,945.9 C945.8,945.3 947.9,945 950.8,945.1 C953.7,945.3 958.1,946.9 960.8,946.9 C963.6,946.9 964.6,946.5 967.1,945.1 C969.6,943.8 973.6,940.1 975.9,938.9 C978.2,937.6 979,937.3 980.9,937.6 C982.8,938 984.4,939.3 987.2,940.9 C989.9,942.5 994.3,946 997.2,947.1 C1000.1,948.3 1001.8,948.8 1004.7,947.6 C1007.6,946.5 1011.8,942.2 1014.7,940.1 C1017.7,938 1020,935.8 1022.3,935.1 C1024.6,934.4 1026.2,935.5 1028.5,935.9 C1030.8,936.2 1033.6,938.2 1036,937.1 C1038.5,936.1 1041.1,931.2 1043.1,929.6 C1045.1,928 1046.3,927.3 1048.1,927.6 C1049.8,927.9 1051,928.6 1053.6,931.4 C1056.2,934.1 1060.4,940.8 1063.6,943.9 C1066.9,946.9 1069.4,949.5 1073.2,949.6 C1076.9,949.8 1082.3,945.6 1086.2,944.6 C1090,943.6 1092.9,944.4 1096.2,943.6 C1099.6,942.9 1103.1,941.2 1106.2,940.1 C1109.4,939 1112.1,937.3 1115,937.1 C1117.9,936.9 1120.7,937.5 1123.8,938.9 C1126.9,940.2 1131,943.6 1133.8,945.1 C1136.7,946.7 1137.9,948.4 1140.8,948.1 C1143.8,947.9 1147.5,945.4 1151.4,943.9 C1155.2,942.3 1159.9,939.7 1163.9,938.9 C1167.9,938 1171.4,939.3 1175.2,938.6 C1178.9,937.9 1183.3,934.8 1186.5,934.6 C1189.6,934.4 1191.1,935.9 1194,937.6 C1196.9,939.3 1201.3,943.2 1204,944.6 C1206.7,946.1 1207.2,947.1 1210.3,946.4 C1213.4,945.6 1219,941.6 1222.5,940.1 C1226.1,938.7 1228.4,937.7 1231.3,937.6 C1234.2,937.5 1237.2,938.5 1240.1,939.6 C1243,940.7 1245.9,944.3 1248.9,944.4 C1251.8,944.5 1255.1,941 1257.6,940.1 C1260.1,939.2 1261.6,938.5 1263.9,938.9 C1266.2,939.2 1268.7,940.9 1271.4,942.1 C1274.1,943.4 1277.9,945.8 1280.2,946.4 C1282.5,947 1282.9,947.1 1285.2,945.9 C1287.5,944.7 1290.6,940.7 1294,939.4 C1297.3,938.1 1301.7,938.6 1305.3,938.1 C1308.8,937.6 1312.9,936.9 1315.3,936.4 C1317.7,935.9 1318.2,936.1 1319.8,935.1 C1321.4,934.1 1322.9,930.9 1324.8,930.6 C1326.8,930.3 1329,930.9 1331.6,933.1 C1334.2,935.3 1337.4,941.5 1340.4,943.9 C1343.3,946.2 1346.6,946.7 1349.2,947.1 C1351.7,947.6 1352.9,947.4 1355.4,946.6 C1357.9,945.9 1361.3,943.2 1364.2,942.6 C1367.1,942.1 1370.2,942.8 1373,943.4 C1375.7,943.9 1378.2,945.8 1380.5,945.9 C1382.8,946 1384.5,944.8 1386.8,943.9 C1389,942.9 1392,940.5 1394.3,940.1 C1396.6,939.8 1398,940.7 1400.5,941.9 C1403,943 1406.4,946.2 1409.3,947.1 C1412.2,948.1 1415.4,947.7 1418.1,947.6 C1420.8,947.6 1422.9,947.3 1425.6,946.6 C1428.3,946 1431,944.5 1434.4,943.9 C1437.7,943.2 1442.3,943.3 1445.7,942.6 C1449,942 1451.1,941.4 1454.4,940.1 C1457.8,938.9 1462.8,935.9 1465.7,935.1 C1468.6,934.4 1469.5,934.1 1472,935.6 C1474.5,937.1 1477.6,941.5 1480.8,943.9 C1483.9,946.3 1488.3,949 1490.8,950.1 C1493.3,951.3 1493.3,951.5 1495.8,950.6 C1498.3,949.8 1503.1,946.2 1505.8,945.1 C1508.5,944.1 1509.6,944.1 1512.1,944.4 C1514.6,944.7 1518.2,947.1 1520.9,946.9 C1523.6,946.7 1525.5,945.3 1528.4,943.4 C1531.3,941.4 1535.7,936.2 1538.4,935.1 C1541.1,934.1 1541.5,935 1544.7,937.1 C1547.8,939.2 1553.9,945.8 1557.2,947.6 C1560.6,949.5 1561.2,949.2 1564.7,948.1 C1568.3,947.1 1575,942.8 1578.5,941.4 C1582.1,940 1583.5,940 1586,939.6 C1588.6,939.2 1591.1,940.1 1593.6,939.1 C1596.1,938.2 1598.8,934.9 1601.1,933.9 C1603.4,932.9 1604.9,931.8 1607.4,933.1 C1609.9,934.4 1613.6,939.7 1616.1,941.4 C1618.6,943.1 1619.9,942.3 1622.4,943.1 C1624.9,944 1628.7,946 1631.2,946.6 C1633.7,947.3 1634.7,948 1637.4,946.9 C1640.2,945.8 1644.3,941.2 1647.5,940.1 C1650.6,939.1 1653.5,940.3 1656.2,940.6 C1659,940.9 1661,942.5 1663.8,941.9 C1666.5,941.3 1670,937.8 1672.5,936.9 C1675,936 1676.1,935.7 1678.8,936.4 C1681.5,937 1685.7,939.3 1688.8,940.6 C1692,942 1695.1,943.8 1697.6,944.4 C1700.1,945 1701.2,945.4 1703.9,944.4 C1706.6,943.4 1711.2,939.6 1713.9,938.4 C1716.6,937.1 1718.1,936.9 1720.2,936.9 C1722.3,936.8 1723.9,937.2 1726.4,938.1 C1728.9,939.1 1732.3,942.9 1735.2,942.6 C1738.1,942.3 1741.5,937.5 1744,936.4 C1746.5,935.2 1748,935 1750.2,935.6 C1752.5,936.2 1755.3,938.6 1757.8,940.1 C1760.2,941.6 1762.9,943.4 1765,944.6 C1767.2,945.9 1767.7,948 1770.5,947.6 C1773.3,947.3 1778.2,943.5 1781.8,942.6 C1785.3,941.7 1788.1,942.3 1791.8,942.1 C1795.6,941.9 1800.6,942 1804.4,941.4 C1808.1,940.7 1811.5,938.7 1814.4,938.1 C1817.3,937.6 1819,937.3 1821.9,938.1 C1824.8,939 1828,941.4 1831.9,943.1 C1835.9,944.8 1841.1,948.5 1845.7,948.4 C1850.3,948.3 1855.1,944.8 1859.5,942.6 C1863.9,940.4 1868.7,936.9 1872,935.1 C1875.4,933.4 1877.1,932.7 1879.6,932.1 C1882.1,931.5 1884.8,930.9 1887.1,931.4 C1889.4,931.8 1891.1,932.5 1893.3,934.6 C1895.6,936.7 1898.4,941.7 1900.9,943.9 C1903.4,946.1 1905.5,947.2 1908.4,947.6 C1911.3,948.1 1914.7,947.4 1918.4,946.4 C1922.2,945.4 1926.8,942.3 1931,941.9 C1935.1,941.5 1939.9,944.3 1943.5,943.9 C1947,943.5 1949.6,940.5 1952.3,939.4 C1955,938.2 1957.1,936.7 1959.8,936.9 C1962.5,937.1 1964.8,938.8 1968.6,940.6 C1972.3,942.4 1978.6,947.1 1982.3,947.6 C1986.1,948.2 1988.4,944.9 1991.1,943.9 C1993.8,942.8 1995.7,941.5 1998.6,941.4 C2001.6,941.3 2006,943.2 2008.7,943.4 C2011.4,943.6 2012.9,944 2014.9,942.6 C2017,941.3 2018.9,936.7 2021.2,935.1 C2023.5,933.5 2026.2,932.3 2028.7,933.1 C2031.2,933.9 2033.3,937.2 2036.2,939.6 C2039.2,942 2043.3,946 2046.3,947.6 C2049.2,949.3 2051.3,949.8 2053.8,949.4 C2056.3,949 2058.8,946.7 2061.3,945.1 C2063.8,943.6 2066.3,940.8 2068.8,940.1 C2071.3,939.4 2073.9,940.2 2076.4,940.9 C2078.9,941.6 2081.4,944.3 2083.9,944.4 C2086.4,944.5 2088.7,942.6 2091.4,941.4 C2094.1,940.2 2097.5,937.4 2100.2,937.1 C2102.9,936.8 2105,938.6 2107.7,939.6 C2110.4,940.6 2113.5,943 2116.5,943.1 C2119.4,943.3 2122.5,942.3 2125.2,940.6 C2128,939 2130.5,934.2 2132.8,933.4 C2135.1,932.5 2136.5,933.6 2139,935.6 C2141.5,937.6 2145.3,943.3 2147.8,945.1 C2150.3,946.9 2151.6,947.9 2154.1,946.4 C2156.6,944.9 2160.3,938.7 2162.8,936.4 C2165.3,934 2167,932.4 2169.1,932.1 C2171.2,931.8 2173.5,933.4 2175.4,934.6 C2177.3,935.9 2177.7,939.2 2180.4,939.6 C2183.1,940 2188.3,936.7 2191.7,936.9 C2195,937.1 2197.3,939.7 2200.4,940.9 C2203.6,942 2208.2,943.4 2210.5,943.9 C2212.7,944.4 2213.4,943.9 2214,943.9" fill="none" stroke="#7e8fae" stroke-width="2.2" stroke-linejoin="round"/>
<path d="M115.5,903 L115.5,960.7 L2214,960.7 L2214,903" fill="none" stroke="#000" stroke-width="1.9"/>
<g id="h1"><rect x="108.2" y="921" width="12.5" height="22" rx="3" fill="#fff" stroke="#222" stroke-width="1.5"/><line x1="112.9" y1="924.5" x2="112.9" y2="939.5" stroke="#222" stroke-width="1.2"/><line x1="116" y1="924.5" x2="116" y2="939.5" stroke="#222" stroke-width="1.2"/></g>
<g id="h2"><rect x="2208.2" y="921" width="12.5" height="22" rx="3" fill="#fff" stroke="#222" stroke-width="1.5"/><line x1="2212.9" y1="924.5" x2="2212.9" y2="939.5" stroke="#222" stroke-width="1.2"/><line x1="2216" y1="924.5" x2="2216" y2="939.5" stroke="#222" stroke-width="1.2"/></g>
<path d="M2234,981 L2234,1002 L2213,1002 Z" fill="#f3f1f1"/>
<path d="M2234,988 L2234,1002 L2220,1002 Z" fill="url(#dots)"/>
</svg>
<div id="roll">30</div>
<div id="xlab">Time Period</div>
</body></html>
